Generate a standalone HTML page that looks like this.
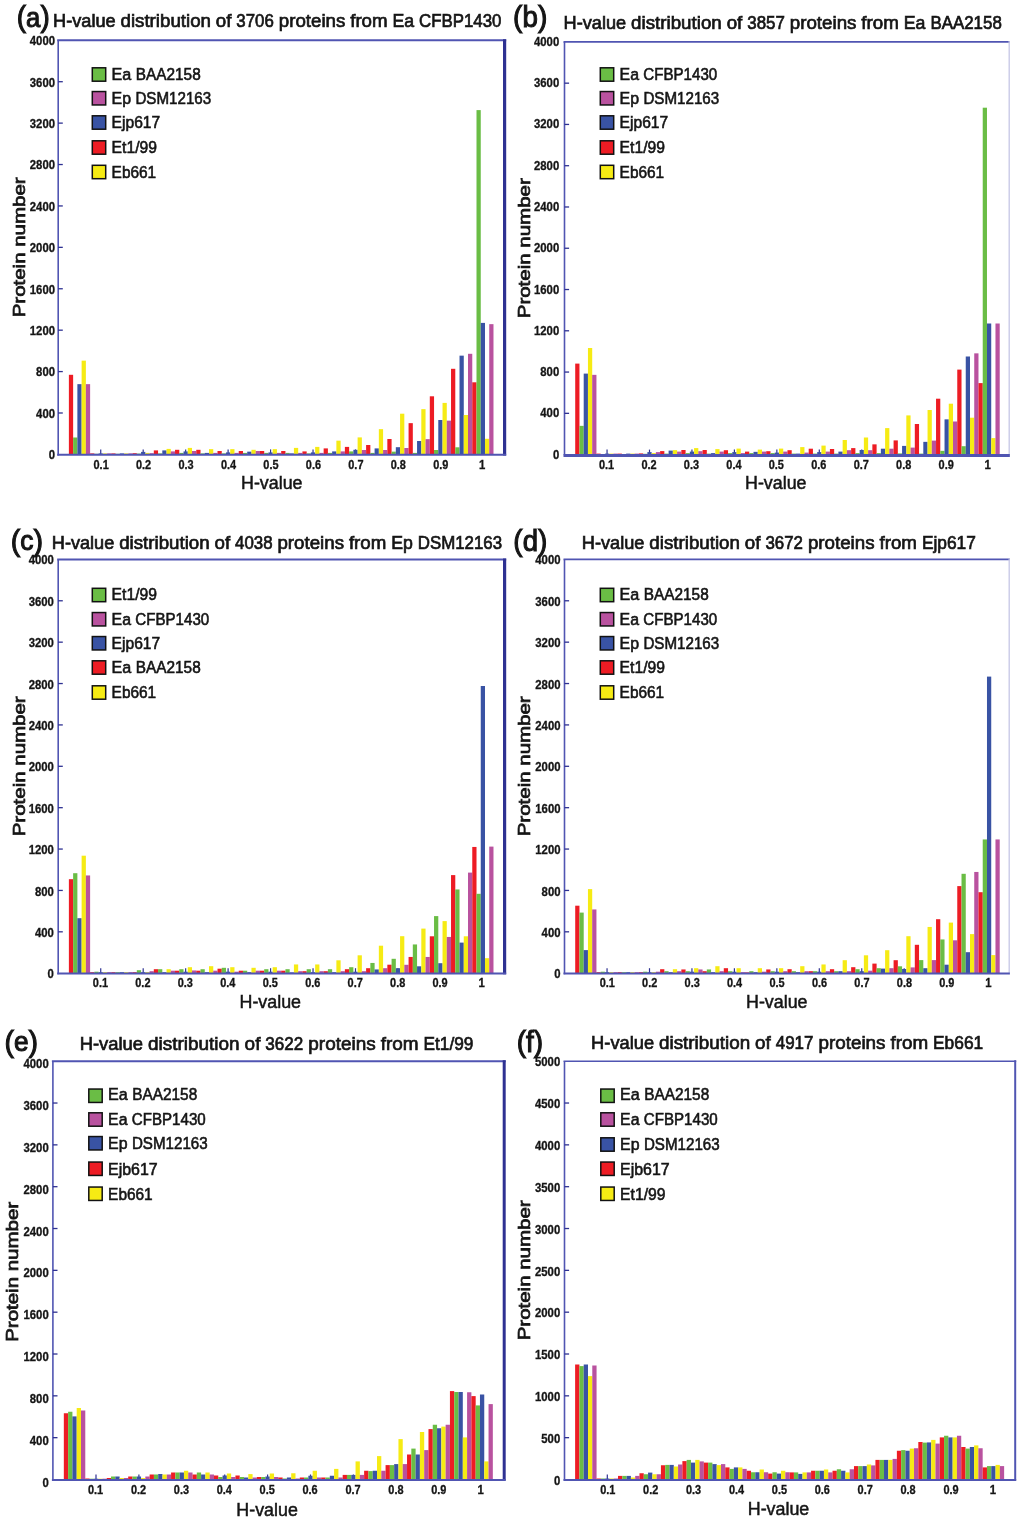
<!DOCTYPE html>
<html lang="en"><head><meta charset="utf-8"><title>H-value distributions</title>
<style>html,body{margin:0;padding:0;background:#fff}svg{display:block}text{font-family:"Liberation Sans",sans-serif;fill:#151515}.tk{font-size:12px;font-weight:bold;stroke:#151515;stroke-width:.3px}.ti{font-size:18.4px;stroke:#151515;stroke-width:.7px}.tg{font-size:30px;stroke:#151515;stroke-width:1.1px}.lg{font-size:16.6px;stroke:#151515;stroke-width:.6px}.xl{font-size:18px;stroke:#151515;stroke-width:.5px}.yl{font-size:17.4px;stroke:#151515;stroke-width:.75px}</style></head><body>
<svg width="1024" height="1521" viewBox="0 0 1024 1521">
<rect width="1024" height="1521" fill="#fff"/>
<g id="panel-a">
<line x1="100.73" y1="454.4" x2="100.73" y2="449.4" stroke="#2e3192" stroke-width="1.2"/>
<line x1="143.19" y1="454.4" x2="143.19" y2="449.4" stroke="#2e3192" stroke-width="1.2"/>
<line x1="185.65" y1="454.4" x2="185.65" y2="449.4" stroke="#2e3192" stroke-width="1.2"/>
<line x1="228.11" y1="454.4" x2="228.11" y2="449.4" stroke="#2e3192" stroke-width="1.2"/>
<line x1="270.57" y1="454.4" x2="270.57" y2="449.4" stroke="#2e3192" stroke-width="1.2"/>
<line x1="313.03" y1="454.4" x2="313.03" y2="449.4" stroke="#2e3192" stroke-width="1.2"/>
<line x1="355.49" y1="454.4" x2="355.49" y2="449.4" stroke="#2e3192" stroke-width="1.2"/>
<line x1="397.95" y1="454.4" x2="397.95" y2="449.4" stroke="#2e3192" stroke-width="1.2"/>
<line x1="440.41" y1="454.4" x2="440.41" y2="449.4" stroke="#2e3192" stroke-width="1.2"/>
<line x1="482.87" y1="454.4" x2="482.87" y2="449.4" stroke="#2e3192" stroke-width="1.2"/>
<g shape-rendering="auto">
<rect x="68.88" y="374.8" width="4.25" height="79.6" fill="#ed1c24"/>
<rect x="73.13" y="437.5" width="4.25" height="16.9" fill="#6abd45"/>
<rect x="77.38" y="384.15" width="4.25" height="70.25" fill="#3953a4"/>
<rect x="81.62" y="360.65" width="4.25" height="93.75" fill="#f6eb14"/>
<rect x="85.87" y="384.15" width="4.25" height="70.25" fill="#b9529f"/>
<rect x="90.12" y="453.4" width="4.25" height="1" fill="#ed1c24"/>
<rect x="94.36" y="453.8" width="4.25" height="0.6" fill="#6abd45"/>
<rect x="98.61" y="453.4" width="4.25" height="1" fill="#3953a4"/>
<rect x="102.85" y="453.4" width="4.25" height="1" fill="#f6eb14"/>
<rect x="107.1" y="453.4" width="4.25" height="1" fill="#b9529f"/>
<rect x="111.34" y="453.4" width="4.25" height="1" fill="#ed1c24"/>
<rect x="115.59" y="453.8" width="4.25" height="0.6" fill="#6abd45"/>
<rect x="119.84" y="453.4" width="4.25" height="1" fill="#3953a4"/>
<rect x="124.08" y="453.4" width="4.25" height="1" fill="#f6eb14"/>
<rect x="128.33" y="453.4" width="4.25" height="1" fill="#b9529f"/>
<rect x="132.58" y="453.2" width="4.25" height="1.2" fill="#ed1c24"/>
<rect x="136.82" y="453.6" width="4.25" height="0.8" fill="#6abd45"/>
<rect x="141.07" y="451.9" width="4.25" height="2.5" fill="#3953a4"/>
<rect x="145.31" y="452.9" width="4.25" height="1.5" fill="#f6eb14"/>
<rect x="149.56" y="453.2" width="4.25" height="1.2" fill="#b9529f"/>
<rect x="153.81" y="450.4" width="4.25" height="4" fill="#ed1c24"/>
<rect x="158.05" y="453.4" width="4.25" height="1" fill="#6abd45"/>
<rect x="162.3" y="450.4" width="4.25" height="4" fill="#3953a4"/>
<rect x="166.54" y="448.9" width="4.25" height="5.5" fill="#f6eb14"/>
<rect x="170.79" y="451.4" width="4.25" height="3" fill="#b9529f"/>
<rect x="175.04" y="449.8" width="4.25" height="4.6" fill="#ed1c24"/>
<rect x="179.28" y="452.9" width="4.25" height="1.5" fill="#6abd45"/>
<rect x="183.53" y="451.4" width="4.25" height="3" fill="#3953a4"/>
<rect x="187.77" y="447.9" width="4.25" height="6.5" fill="#f6eb14"/>
<rect x="192.02" y="451" width="4.25" height="3.4" fill="#b9529f"/>
<rect x="196.27" y="449.8" width="4.25" height="4.6" fill="#ed1c24"/>
<rect x="200.51" y="453.4" width="4.25" height="1" fill="#6abd45"/>
<rect x="204.76" y="452.9" width="4.25" height="1.5" fill="#3953a4"/>
<rect x="209" y="449.15" width="4.25" height="5.25" fill="#f6eb14"/>
<rect x="213.25" y="452.9" width="4.25" height="1.5" fill="#b9529f"/>
<rect x="217.5" y="451" width="4.25" height="3.4" fill="#ed1c24"/>
<rect x="221.74" y="453.4" width="4.25" height="1" fill="#6abd45"/>
<rect x="225.99" y="452.4" width="4.25" height="2" fill="#3953a4"/>
<rect x="230.23" y="449.15" width="4.25" height="5.25" fill="#f6eb14"/>
<rect x="234.48" y="452.9" width="4.25" height="1.5" fill="#b9529f"/>
<rect x="238.73" y="451" width="4.25" height="3.4" fill="#ed1c24"/>
<rect x="242.97" y="452.9" width="4.25" height="1.5" fill="#6abd45"/>
<rect x="247.22" y="451.65" width="4.25" height="2.75" fill="#3953a4"/>
<rect x="251.46" y="449.8" width="4.25" height="4.6" fill="#f6eb14"/>
<rect x="255.71" y="451" width="4.25" height="3.4" fill="#b9529f"/>
<rect x="259.96" y="451" width="4.25" height="3.4" fill="#ed1c24"/>
<rect x="264.2" y="452.9" width="4.25" height="1.5" fill="#6abd45"/>
<rect x="268.45" y="452.4" width="4.25" height="2" fill="#3953a4"/>
<rect x="272.69" y="449.15" width="4.25" height="5.25" fill="#f6eb14"/>
<rect x="276.94" y="452.9" width="4.25" height="1.5" fill="#b9529f"/>
<rect x="281.19" y="451" width="4.25" height="3.4" fill="#ed1c24"/>
<rect x="285.43" y="452.9" width="4.25" height="1.5" fill="#6abd45"/>
<rect x="289.68" y="453.4" width="4.25" height="1" fill="#3953a4"/>
<rect x="293.92" y="447.9" width="4.25" height="6.5" fill="#f6eb14"/>
<rect x="298.17" y="452.9" width="4.25" height="1.5" fill="#b9529f"/>
<rect x="302.42" y="451.4" width="4.25" height="3" fill="#ed1c24"/>
<rect x="306.66" y="453.4" width="4.25" height="1" fill="#6abd45"/>
<rect x="310.91" y="452.4" width="4.25" height="2" fill="#3953a4"/>
<rect x="315.15" y="446.9" width="4.25" height="7.5" fill="#f6eb14"/>
<rect x="319.4" y="452.9" width="4.25" height="1.5" fill="#b9529f"/>
<rect x="323.65" y="448.4" width="4.25" height="6" fill="#ed1c24"/>
<rect x="327.89" y="452.9" width="4.25" height="1.5" fill="#6abd45"/>
<rect x="332.14" y="451.4" width="4.25" height="3" fill="#3953a4"/>
<rect x="336.38" y="440.65" width="4.25" height="13.75" fill="#f6eb14"/>
<rect x="340.63" y="451.4" width="4.25" height="3" fill="#b9529f"/>
<rect x="344.88" y="446.9" width="4.25" height="7.5" fill="#ed1c24"/>
<rect x="349.12" y="451.4" width="4.25" height="3" fill="#6abd45"/>
<rect x="353.37" y="449.8" width="4.25" height="4.6" fill="#3953a4"/>
<rect x="357.61" y="437.4" width="4.25" height="17" fill="#f6eb14"/>
<rect x="361.86" y="450" width="4.25" height="4.4" fill="#b9529f"/>
<rect x="366.11" y="445" width="4.25" height="9.4" fill="#ed1c24"/>
<rect x="370.35" y="452.9" width="4.25" height="1.5" fill="#6abd45"/>
<rect x="374.6" y="448.4" width="4.25" height="6" fill="#3953a4"/>
<rect x="378.84" y="429.15" width="4.25" height="25.25" fill="#f6eb14"/>
<rect x="383.09" y="450" width="4.25" height="4.4" fill="#b9529f"/>
<rect x="387.34" y="439" width="4.25" height="15.4" fill="#ed1c24"/>
<rect x="391.58" y="451.65" width="4.25" height="2.75" fill="#6abd45"/>
<rect x="395.83" y="447.2" width="4.25" height="7.2" fill="#3953a4"/>
<rect x="400.07" y="413.7" width="4.25" height="40.7" fill="#f6eb14"/>
<rect x="404.32" y="448" width="4.25" height="6.4" fill="#b9529f"/>
<rect x="408.57" y="423.15" width="4.25" height="31.25" fill="#ed1c24"/>
<rect x="412.81" y="452.9" width="4.25" height="1.5" fill="#6abd45"/>
<rect x="417.06" y="441" width="4.25" height="13.4" fill="#3953a4"/>
<rect x="421.3" y="409.15" width="4.25" height="45.25" fill="#f6eb14"/>
<rect x="425.55" y="439.15" width="4.25" height="15.25" fill="#b9529f"/>
<rect x="429.8" y="396.3" width="4.25" height="58.1" fill="#ed1c24"/>
<rect x="434.04" y="450" width="4.25" height="4.4" fill="#6abd45"/>
<rect x="438.29" y="420" width="4.25" height="34.4" fill="#3953a4"/>
<rect x="442.53" y="402.9" width="4.25" height="51.5" fill="#f6eb14"/>
<rect x="446.78" y="420.65" width="4.25" height="33.75" fill="#b9529f"/>
<rect x="451.03" y="368.8" width="4.25" height="85.6" fill="#ed1c24"/>
<rect x="455.27" y="447.3" width="4.25" height="7.1" fill="#6abd45"/>
<rect x="459.52" y="355.65" width="4.25" height="98.75" fill="#3953a4"/>
<rect x="463.76" y="415" width="4.25" height="39.4" fill="#f6eb14"/>
<rect x="468.01" y="353.8" width="4.25" height="100.6" fill="#b9529f"/>
<rect x="472.26" y="382.3" width="4.25" height="72.1" fill="#ed1c24"/>
<rect x="476.5" y="110.1" width="4.25" height="344.3" fill="#6abd45"/>
<rect x="480.75" y="322.9" width="4.25" height="131.5" fill="#3953a4"/>
<rect x="484.99" y="438.8" width="4.25" height="15.6" fill="#f6eb14"/>
<rect x="489.24" y="324.15" width="4.25" height="130.25" fill="#b9529f"/>
</g>
<line x1="58.2" y1="40.3" x2="58.2" y2="455.4" stroke="#5055b2" stroke-width="1.6"/>
<line x1="57.2" y1="40.3" x2="506.2" y2="40.3" stroke="#5055b2" stroke-width="2.0"/>
<line x1="504.6" y1="39.3" x2="504.6" y2="455.4" stroke="#2e3192" stroke-width="3.2"/>
<line x1="57.2" y1="454.8" x2="506.2" y2="454.8" stroke="#5055b2" stroke-width="2.0"/>
<text class="tk" x="55" y="459.3" text-anchor="end" textLength="6.3" lengthAdjust="spacingAndGlyphs">0</text>
<line x1="58.2" y1="412.99" x2="62.8" y2="412.99" stroke="#2e3192" stroke-width="1.3"/>
<text class="tk" x="55" y="417.89" text-anchor="end" textLength="18.9" lengthAdjust="spacingAndGlyphs">400</text>
<line x1="58.2" y1="371.58" x2="62.8" y2="371.58" stroke="#2e3192" stroke-width="1.3"/>
<text class="tk" x="55" y="376.48" text-anchor="end" textLength="18.9" lengthAdjust="spacingAndGlyphs">800</text>
<line x1="58.2" y1="330.17" x2="62.8" y2="330.17" stroke="#2e3192" stroke-width="1.3"/>
<text class="tk" x="55" y="335.07" text-anchor="end" textLength="25.2" lengthAdjust="spacingAndGlyphs">1200</text>
<line x1="58.2" y1="288.76" x2="62.8" y2="288.76" stroke="#2e3192" stroke-width="1.3"/>
<text class="tk" x="55" y="293.66" text-anchor="end" textLength="25.2" lengthAdjust="spacingAndGlyphs">1600</text>
<line x1="58.2" y1="247.35" x2="62.8" y2="247.35" stroke="#2e3192" stroke-width="1.3"/>
<text class="tk" x="55" y="252.25" text-anchor="end" textLength="25.2" lengthAdjust="spacingAndGlyphs">2000</text>
<line x1="58.2" y1="205.94" x2="62.8" y2="205.94" stroke="#2e3192" stroke-width="1.3"/>
<text class="tk" x="55" y="210.84" text-anchor="end" textLength="25.2" lengthAdjust="spacingAndGlyphs">2400</text>
<line x1="58.2" y1="164.53" x2="62.8" y2="164.53" stroke="#2e3192" stroke-width="1.3"/>
<text class="tk" x="55" y="169.43" text-anchor="end" textLength="25.2" lengthAdjust="spacingAndGlyphs">2800</text>
<line x1="58.2" y1="123.12" x2="62.8" y2="123.12" stroke="#2e3192" stroke-width="1.3"/>
<text class="tk" x="55" y="128.02" text-anchor="end" textLength="25.2" lengthAdjust="spacingAndGlyphs">3200</text>
<line x1="58.2" y1="81.71" x2="62.8" y2="81.71" stroke="#2e3192" stroke-width="1.3"/>
<text class="tk" x="55" y="86.61" text-anchor="end" textLength="25.2" lengthAdjust="spacingAndGlyphs">3600</text>
<text class="tk" x="55" y="44.7" text-anchor="end" textLength="25.2" lengthAdjust="spacingAndGlyphs">4000</text>
<text class="tk" x="101.13" y="468.6" text-anchor="middle" textLength="15.2" lengthAdjust="spacingAndGlyphs">0.1</text>
<text class="tk" x="143.59" y="468.6" text-anchor="middle" textLength="15.2" lengthAdjust="spacingAndGlyphs">0.2</text>
<text class="tk" x="186.05" y="468.6" text-anchor="middle" textLength="15.2" lengthAdjust="spacingAndGlyphs">0.3</text>
<text class="tk" x="228.51" y="468.6" text-anchor="middle" textLength="15.2" lengthAdjust="spacingAndGlyphs">0.4</text>
<text class="tk" x="270.97" y="468.6" text-anchor="middle" textLength="15.2" lengthAdjust="spacingAndGlyphs">0.5</text>
<text class="tk" x="313.43" y="468.6" text-anchor="middle" textLength="15.2" lengthAdjust="spacingAndGlyphs">0.6</text>
<text class="tk" x="355.89" y="468.6" text-anchor="middle" textLength="15.2" lengthAdjust="spacingAndGlyphs">0.7</text>
<text class="tk" x="398.35" y="468.6" text-anchor="middle" textLength="15.2" lengthAdjust="spacingAndGlyphs">0.8</text>
<text class="tk" x="440.81" y="468.6" text-anchor="middle" textLength="15.2" lengthAdjust="spacingAndGlyphs">0.9</text>
<text class="tk" x="482.27" y="468.6" text-anchor="middle" textLength="6.3" lengthAdjust="spacingAndGlyphs">1</text>
<text class="xl" x="271.77" y="488.8" text-anchor="middle" textLength="61.5" lengthAdjust="spacingAndGlyphs">H-value</text>
<text class="yl" transform="translate(25.3 247.35) rotate(-90)" text-anchor="middle" textLength="140" lengthAdjust="spacingAndGlyphs">Protein number</text>
<text class="ti" y="27.1"><tspan x="53.1" textLength="62.5" lengthAdjust="spacingAndGlyphs">H-value</tspan> <tspan x="120.5" textLength="90.46" lengthAdjust="spacingAndGlyphs">distribution</tspan> <tspan x="215.86" textLength="15.6" lengthAdjust="spacingAndGlyphs">of</tspan> <tspan x="236.36" textLength="37.49" lengthAdjust="spacingAndGlyphs">3706</tspan> <tspan x="278.76" textLength="66.55" lengthAdjust="spacingAndGlyphs">proteins</tspan> <tspan x="350.21" textLength="37.41" lengthAdjust="spacingAndGlyphs">from</tspan> <tspan x="392.52" textLength="21.64" lengthAdjust="spacingAndGlyphs">Ea</tspan> <tspan x="419.06" textLength="82.44" lengthAdjust="spacingAndGlyphs">CFBP1430</tspan></text>
<text class="tg" x="16.8" y="26.5" textLength="32.9" lengthAdjust="spacingAndGlyphs">(<tspan font-size="27.5" dy="0">a</tspan><tspan dy="0">)</tspan></text>
<rect x="92.3" y="67.8" width="13.4" height="13.4" fill="#6abd45" stroke="#111" stroke-width="1.5"/>
<text class="lg" y="79.5"><tspan x="111.6" textLength="19.73" lengthAdjust="spacingAndGlyphs">Ea</tspan> <tspan x="135.8" textLength="64.9" lengthAdjust="spacingAndGlyphs">BAA2158</tspan></text>
<rect x="92.3" y="91.55" width="13.4" height="13.4" fill="#b9529f" stroke="#111" stroke-width="1.5"/>
<text class="lg" y="104.15"><tspan x="111.6" textLength="19.45" lengthAdjust="spacingAndGlyphs">Ep</tspan> <tspan x="135.45" textLength="75.75" lengthAdjust="spacingAndGlyphs">DSM12163</tspan></text>
<rect x="92.3" y="115.8" width="13.4" height="13.4" fill="#3953a4" stroke="#111" stroke-width="1.5"/>
<text class="lg" y="128.4"><tspan x="111.6" textLength="48.6" lengthAdjust="spacingAndGlyphs">Ejp617</tspan></text>
<rect x="92.3" y="140.8" width="13.4" height="13.4" fill="#ed1c24" stroke="#111" stroke-width="1.5"/>
<text class="lg" y="153.4"><tspan x="111.6" textLength="45.4" lengthAdjust="spacingAndGlyphs">Et1/99</tspan></text>
<rect x="92.3" y="165.3" width="13.4" height="13.4" fill="#f6eb14" stroke="#111" stroke-width="1.5"/>
<text class="lg" y="177.9"><tspan x="111.6" textLength="44.6" lengthAdjust="spacingAndGlyphs">Eb661</tspan></text>
</g>
<g id="panel-b">
<line x1="607.05" y1="454.6" x2="607.05" y2="449.6" stroke="#2e3192" stroke-width="1.2"/>
<line x1="649.5" y1="454.6" x2="649.5" y2="449.6" stroke="#2e3192" stroke-width="1.2"/>
<line x1="691.95" y1="454.6" x2="691.95" y2="449.6" stroke="#2e3192" stroke-width="1.2"/>
<line x1="734.4" y1="454.6" x2="734.4" y2="449.6" stroke="#2e3192" stroke-width="1.2"/>
<line x1="776.85" y1="454.6" x2="776.85" y2="449.6" stroke="#2e3192" stroke-width="1.2"/>
<line x1="819.3" y1="454.6" x2="819.3" y2="449.6" stroke="#2e3192" stroke-width="1.2"/>
<line x1="861.75" y1="454.6" x2="861.75" y2="449.6" stroke="#2e3192" stroke-width="1.2"/>
<line x1="904.2" y1="454.6" x2="904.2" y2="449.6" stroke="#2e3192" stroke-width="1.2"/>
<line x1="946.65" y1="454.6" x2="946.65" y2="449.6" stroke="#2e3192" stroke-width="1.2"/>
<line x1="989.1" y1="454.6" x2="989.1" y2="449.6" stroke="#2e3192" stroke-width="1.2"/>
<g shape-rendering="auto">
<rect x="575.21" y="363.6" width="4.25" height="91" fill="#ed1c24"/>
<rect x="579.46" y="425.85" width="4.25" height="28.75" fill="#6abd45"/>
<rect x="583.7" y="373.6" width="4.25" height="81" fill="#3953a4"/>
<rect x="587.95" y="348" width="4.25" height="106.6" fill="#f6eb14"/>
<rect x="592.19" y="374.85" width="4.25" height="79.75" fill="#b9529f"/>
<rect x="596.44" y="453.6" width="4.25" height="1" fill="#ed1c24"/>
<rect x="600.68" y="454" width="4.25" height="0.6" fill="#6abd45"/>
<rect x="604.93" y="453.6" width="4.25" height="1" fill="#3953a4"/>
<rect x="609.17" y="453.6" width="4.25" height="1" fill="#f6eb14"/>
<rect x="613.42" y="453.6" width="4.25" height="1" fill="#b9529f"/>
<rect x="617.66" y="453.6" width="4.25" height="1" fill="#ed1c24"/>
<rect x="621.91" y="454" width="4.25" height="0.6" fill="#6abd45"/>
<rect x="626.15" y="453.6" width="4.25" height="1" fill="#3953a4"/>
<rect x="630.4" y="453.6" width="4.25" height="1" fill="#f6eb14"/>
<rect x="634.64" y="453.6" width="4.25" height="1" fill="#b9529f"/>
<rect x="638.89" y="453.4" width="4.25" height="1.2" fill="#ed1c24"/>
<rect x="643.13" y="453.8" width="4.25" height="0.8" fill="#6abd45"/>
<rect x="647.38" y="452.1" width="4.25" height="2.5" fill="#3953a4"/>
<rect x="651.62" y="453.1" width="4.25" height="1.5" fill="#f6eb14"/>
<rect x="655.87" y="452.1" width="4.25" height="2.5" fill="#b9529f"/>
<rect x="660.11" y="451.1" width="4.25" height="3.5" fill="#ed1c24"/>
<rect x="664.36" y="453.6" width="4.25" height="1" fill="#6abd45"/>
<rect x="668.6" y="450.6" width="4.25" height="4" fill="#3953a4"/>
<rect x="672.85" y="450.1" width="4.25" height="4.5" fill="#f6eb14"/>
<rect x="677.09" y="451.6" width="4.25" height="3" fill="#b9529f"/>
<rect x="681.34" y="450" width="4.25" height="4.6" fill="#ed1c24"/>
<rect x="685.58" y="453.1" width="4.25" height="1.5" fill="#6abd45"/>
<rect x="689.83" y="451.6" width="4.25" height="3" fill="#3953a4"/>
<rect x="694.07" y="448.1" width="4.25" height="6.5" fill="#f6eb14"/>
<rect x="698.32" y="451.2" width="4.25" height="3.4" fill="#b9529f"/>
<rect x="702.56" y="450" width="4.25" height="4.6" fill="#ed1c24"/>
<rect x="706.81" y="453.6" width="4.25" height="1" fill="#6abd45"/>
<rect x="711.05" y="453.1" width="4.25" height="1.5" fill="#3953a4"/>
<rect x="715.3" y="449.1" width="4.25" height="5.5" fill="#f6eb14"/>
<rect x="719.54" y="451.6" width="4.25" height="3" fill="#b9529f"/>
<rect x="723.79" y="450.2" width="4.25" height="4.4" fill="#ed1c24"/>
<rect x="728.03" y="453.1" width="4.25" height="1.5" fill="#6abd45"/>
<rect x="732.28" y="452.1" width="4.25" height="2.5" fill="#3953a4"/>
<rect x="736.52" y="448.6" width="4.25" height="6" fill="#f6eb14"/>
<rect x="740.77" y="453.1" width="4.25" height="1.5" fill="#b9529f"/>
<rect x="745.01" y="451.6" width="4.25" height="3" fill="#ed1c24"/>
<rect x="749.26" y="453.1" width="4.25" height="1.5" fill="#6abd45"/>
<rect x="753.5" y="451.85" width="4.25" height="2.75" fill="#3953a4"/>
<rect x="757.75" y="449.6" width="4.25" height="5" fill="#f6eb14"/>
<rect x="761.99" y="451.6" width="4.25" height="3" fill="#b9529f"/>
<rect x="766.24" y="451.2" width="4.25" height="3.4" fill="#ed1c24"/>
<rect x="770.48" y="453.1" width="4.25" height="1.5" fill="#6abd45"/>
<rect x="774.73" y="452.6" width="4.25" height="2" fill="#3953a4"/>
<rect x="778.97" y="448.6" width="4.25" height="6" fill="#f6eb14"/>
<rect x="783.22" y="451.6" width="4.25" height="3" fill="#b9529f"/>
<rect x="787.46" y="450.2" width="4.25" height="4.4" fill="#ed1c24"/>
<rect x="791.71" y="453.6" width="4.25" height="1" fill="#6abd45"/>
<rect x="795.95" y="453.6" width="4.25" height="1" fill="#3953a4"/>
<rect x="800.2" y="447.1" width="4.25" height="7.5" fill="#f6eb14"/>
<rect x="804.44" y="452.6" width="4.25" height="2" fill="#b9529f"/>
<rect x="808.69" y="448.7" width="4.25" height="5.9" fill="#ed1c24"/>
<rect x="812.93" y="453.6" width="4.25" height="1" fill="#6abd45"/>
<rect x="817.18" y="452.1" width="4.25" height="2.5" fill="#3953a4"/>
<rect x="821.42" y="445.6" width="4.25" height="9" fill="#f6eb14"/>
<rect x="825.67" y="451.6" width="4.25" height="3" fill="#b9529f"/>
<rect x="829.91" y="449" width="4.25" height="5.6" fill="#ed1c24"/>
<rect x="834.16" y="453.6" width="4.25" height="1" fill="#6abd45"/>
<rect x="838.4" y="451.6" width="4.25" height="3" fill="#3953a4"/>
<rect x="842.65" y="440" width="4.25" height="14.6" fill="#f6eb14"/>
<rect x="846.89" y="450.2" width="4.25" height="4.4" fill="#b9529f"/>
<rect x="851.14" y="448.1" width="4.25" height="6.5" fill="#ed1c24"/>
<rect x="855.38" y="453.1" width="4.25" height="1.5" fill="#6abd45"/>
<rect x="859.63" y="450" width="4.25" height="4.6" fill="#3953a4"/>
<rect x="863.87" y="437.5" width="4.25" height="17.1" fill="#f6eb14"/>
<rect x="868.12" y="450.2" width="4.25" height="4.4" fill="#b9529f"/>
<rect x="872.36" y="444.35" width="4.25" height="10.25" fill="#ed1c24"/>
<rect x="876.61" y="453.1" width="4.25" height="1.5" fill="#6abd45"/>
<rect x="880.85" y="448.7" width="4.25" height="5.9" fill="#3953a4"/>
<rect x="885.1" y="428.1" width="4.25" height="26.5" fill="#f6eb14"/>
<rect x="889.34" y="448.7" width="4.25" height="5.9" fill="#b9529f"/>
<rect x="893.59" y="440.4" width="4.25" height="14.2" fill="#ed1c24"/>
<rect x="897.83" y="453.4" width="4.25" height="1.2" fill="#6abd45"/>
<rect x="902.08" y="445.9" width="4.25" height="8.7" fill="#3953a4"/>
<rect x="906.32" y="415.4" width="4.25" height="39.2" fill="#f6eb14"/>
<rect x="910.57" y="447.6" width="4.25" height="7" fill="#b9529f"/>
<rect x="914.81" y="424" width="4.25" height="30.6" fill="#ed1c24"/>
<rect x="919.06" y="453.6" width="4.25" height="1" fill="#6abd45"/>
<rect x="923.3" y="441.85" width="4.25" height="12.75" fill="#3953a4"/>
<rect x="927.55" y="410" width="4.25" height="44.6" fill="#f6eb14"/>
<rect x="931.79" y="440.6" width="4.25" height="14" fill="#b9529f"/>
<rect x="936.04" y="398.7" width="4.25" height="55.9" fill="#ed1c24"/>
<rect x="940.28" y="450.85" width="4.25" height="3.75" fill="#6abd45"/>
<rect x="944.53" y="419.35" width="4.25" height="35.25" fill="#3953a4"/>
<rect x="948.77" y="403.7" width="4.25" height="50.9" fill="#f6eb14"/>
<rect x="953.02" y="421.5" width="4.25" height="33.1" fill="#b9529f"/>
<rect x="957.26" y="369.6" width="4.25" height="85" fill="#ed1c24"/>
<rect x="961.51" y="446.2" width="4.25" height="8.4" fill="#6abd45"/>
<rect x="965.75" y="356.5" width="4.25" height="98.1" fill="#3953a4"/>
<rect x="970" y="417.7" width="4.25" height="36.9" fill="#f6eb14"/>
<rect x="974.24" y="353.35" width="4.25" height="101.25" fill="#b9529f"/>
<rect x="978.49" y="383.1" width="4.25" height="71.5" fill="#ed1c24"/>
<rect x="982.73" y="107.7" width="4.25" height="346.9" fill="#6abd45"/>
<rect x="986.98" y="323.5" width="4.25" height="131.1" fill="#3953a4"/>
<rect x="991.22" y="438.1" width="4.25" height="16.5" fill="#f6eb14"/>
<rect x="995.47" y="323.5" width="4.25" height="131.1" fill="#b9529f"/>
</g>
<line x1="564.5" y1="42.1" x2="564.5" y2="455.6" stroke="#5055b2" stroke-width="1.6"/>
<line x1="563.5" y1="41.9" x2="1009.85" y2="41.9" stroke="#5055b2" stroke-width="1.6"/>
<line x1="1009.2" y1="40.9" x2="1009.2" y2="455.6" stroke="#c6c7e6" stroke-width="1.3"/>
<line x1="563.5" y1="455.5" x2="1009.85" y2="455.5" stroke="#5055b2" stroke-width="3.0"/>
<text class="tk" x="559.2" y="458.6" text-anchor="end" textLength="6.3" lengthAdjust="spacingAndGlyphs">0</text>
<line x1="564.5" y1="413.33" x2="569.1" y2="413.33" stroke="#2e3192" stroke-width="1.3"/>
<text class="tk" x="559.2" y="417.33" text-anchor="end" textLength="18.9" lengthAdjust="spacingAndGlyphs">400</text>
<line x1="564.5" y1="372.06" x2="569.1" y2="372.06" stroke="#2e3192" stroke-width="1.3"/>
<text class="tk" x="559.2" y="376.06" text-anchor="end" textLength="18.9" lengthAdjust="spacingAndGlyphs">800</text>
<line x1="564.5" y1="330.79" x2="569.1" y2="330.79" stroke="#2e3192" stroke-width="1.3"/>
<text class="tk" x="559.2" y="334.79" text-anchor="end" textLength="25.2" lengthAdjust="spacingAndGlyphs">1200</text>
<line x1="564.5" y1="289.52" x2="569.1" y2="289.52" stroke="#2e3192" stroke-width="1.3"/>
<text class="tk" x="559.2" y="293.52" text-anchor="end" textLength="25.2" lengthAdjust="spacingAndGlyphs">1600</text>
<line x1="564.5" y1="248.25" x2="569.1" y2="248.25" stroke="#2e3192" stroke-width="1.3"/>
<text class="tk" x="559.2" y="252.25" text-anchor="end" textLength="25.2" lengthAdjust="spacingAndGlyphs">2000</text>
<line x1="564.5" y1="206.98" x2="569.1" y2="206.98" stroke="#2e3192" stroke-width="1.3"/>
<text class="tk" x="559.2" y="210.98" text-anchor="end" textLength="25.2" lengthAdjust="spacingAndGlyphs">2400</text>
<line x1="564.5" y1="165.71" x2="569.1" y2="165.71" stroke="#2e3192" stroke-width="1.3"/>
<text class="tk" x="559.2" y="169.71" text-anchor="end" textLength="25.2" lengthAdjust="spacingAndGlyphs">2800</text>
<line x1="564.5" y1="124.44" x2="569.1" y2="124.44" stroke="#2e3192" stroke-width="1.3"/>
<text class="tk" x="559.2" y="128.44" text-anchor="end" textLength="25.2" lengthAdjust="spacingAndGlyphs">3200</text>
<line x1="564.5" y1="83.17" x2="569.1" y2="83.17" stroke="#2e3192" stroke-width="1.3"/>
<text class="tk" x="559.2" y="87.17" text-anchor="end" textLength="25.2" lengthAdjust="spacingAndGlyphs">3600</text>
<text class="tk" x="559.2" y="45.9" text-anchor="end" textLength="25.2" lengthAdjust="spacingAndGlyphs">4000</text>
<text class="tk" x="606.55" y="468.8" text-anchor="middle" textLength="15.2" lengthAdjust="spacingAndGlyphs">0.1</text>
<text class="tk" x="649" y="468.8" text-anchor="middle" textLength="15.2" lengthAdjust="spacingAndGlyphs">0.2</text>
<text class="tk" x="691.45" y="468.8" text-anchor="middle" textLength="15.2" lengthAdjust="spacingAndGlyphs">0.3</text>
<text class="tk" x="733.9" y="468.8" text-anchor="middle" textLength="15.2" lengthAdjust="spacingAndGlyphs">0.4</text>
<text class="tk" x="776.35" y="468.8" text-anchor="middle" textLength="15.2" lengthAdjust="spacingAndGlyphs">0.5</text>
<text class="tk" x="818.8" y="468.8" text-anchor="middle" textLength="15.2" lengthAdjust="spacingAndGlyphs">0.6</text>
<text class="tk" x="861.25" y="468.8" text-anchor="middle" textLength="15.2" lengthAdjust="spacingAndGlyphs">0.7</text>
<text class="tk" x="903.7" y="468.8" text-anchor="middle" textLength="15.2" lengthAdjust="spacingAndGlyphs">0.8</text>
<text class="tk" x="946.15" y="468.8" text-anchor="middle" textLength="15.2" lengthAdjust="spacingAndGlyphs">0.9</text>
<text class="tk" x="987.6" y="468.8" text-anchor="middle" textLength="6.3" lengthAdjust="spacingAndGlyphs">1</text>
<text class="xl" x="775.75" y="488.8" text-anchor="middle" textLength="61.5" lengthAdjust="spacingAndGlyphs">H-value</text>
<text class="yl" transform="translate(530 248.25) rotate(-90)" text-anchor="middle" textLength="140" lengthAdjust="spacingAndGlyphs">Protein number</text>
<text class="ti" y="29"><tspan x="563.5" textLength="62.66" lengthAdjust="spacingAndGlyphs">H-value</tspan> <tspan x="631.08" textLength="90.69" lengthAdjust="spacingAndGlyphs">distribution</tspan> <tspan x="726.68" textLength="15.64" lengthAdjust="spacingAndGlyphs">of</tspan> <tspan x="747.24" textLength="37.59" lengthAdjust="spacingAndGlyphs">3857</tspan> <tspan x="789.74" textLength="66.72" lengthAdjust="spacingAndGlyphs">proteins</tspan> <tspan x="861.37" textLength="37.51" lengthAdjust="spacingAndGlyphs">from</tspan> <tspan x="903.79" textLength="21.7" lengthAdjust="spacingAndGlyphs">Ea</tspan> <tspan x="930.41" textLength="71.39" lengthAdjust="spacingAndGlyphs">BAA2158</tspan></text>
<text class="tg" x="513.1" y="26.9" textLength="34.2" lengthAdjust="spacingAndGlyphs">(<tspan font-size="29.5" dy="0">b</tspan><tspan dy="0">)</tspan></text>
<rect x="600.3" y="67.8" width="13.4" height="13.4" fill="#6abd45" stroke="#111" stroke-width="1.5"/>
<text class="lg" y="79.5"><tspan x="619.6" textLength="19.38" lengthAdjust="spacingAndGlyphs">Ea</tspan> <tspan x="643.37" textLength="73.83" lengthAdjust="spacingAndGlyphs">CFBP1430</tspan></text>
<rect x="600.3" y="91.55" width="13.4" height="13.4" fill="#b9529f" stroke="#111" stroke-width="1.5"/>
<text class="lg" y="104.15"><tspan x="619.6" textLength="19.45" lengthAdjust="spacingAndGlyphs">Ep</tspan> <tspan x="643.45" textLength="75.75" lengthAdjust="spacingAndGlyphs">DSM12163</tspan></text>
<rect x="600.3" y="115.8" width="13.4" height="13.4" fill="#3953a4" stroke="#111" stroke-width="1.5"/>
<text class="lg" y="128.4"><tspan x="619.6" textLength="48.6" lengthAdjust="spacingAndGlyphs">Ejp617</tspan></text>
<rect x="600.3" y="140.8" width="13.4" height="13.4" fill="#ed1c24" stroke="#111" stroke-width="1.5"/>
<text class="lg" y="153.4"><tspan x="619.6" textLength="45.4" lengthAdjust="spacingAndGlyphs">Et1/99</tspan></text>
<rect x="600.3" y="165.3" width="13.4" height="13.4" fill="#f6eb14" stroke="#111" stroke-width="1.5"/>
<text class="lg" y="177.9"><tspan x="619.6" textLength="44.6" lengthAdjust="spacingAndGlyphs">Eb661</tspan></text>
</g>
<g id="panel-c">
<line x1="100.73" y1="973.2" x2="100.73" y2="968.2" stroke="#2e3192" stroke-width="1.2"/>
<line x1="143.19" y1="973.2" x2="143.19" y2="968.2" stroke="#2e3192" stroke-width="1.2"/>
<line x1="185.65" y1="973.2" x2="185.65" y2="968.2" stroke="#2e3192" stroke-width="1.2"/>
<line x1="228.11" y1="973.2" x2="228.11" y2="968.2" stroke="#2e3192" stroke-width="1.2"/>
<line x1="270.57" y1="973.2" x2="270.57" y2="968.2" stroke="#2e3192" stroke-width="1.2"/>
<line x1="313.03" y1="973.2" x2="313.03" y2="968.2" stroke="#2e3192" stroke-width="1.2"/>
<line x1="355.49" y1="973.2" x2="355.49" y2="968.2" stroke="#2e3192" stroke-width="1.2"/>
<line x1="397.95" y1="973.2" x2="397.95" y2="968.2" stroke="#2e3192" stroke-width="1.2"/>
<line x1="440.41" y1="973.2" x2="440.41" y2="968.2" stroke="#2e3192" stroke-width="1.2"/>
<line x1="482.87" y1="973.2" x2="482.87" y2="968.2" stroke="#2e3192" stroke-width="1.2"/>
<g shape-rendering="auto">
<rect x="68.88" y="879.2" width="4.25" height="94" fill="#ed1c24"/>
<rect x="73.13" y="873.2" width="4.25" height="100" fill="#6abd45"/>
<rect x="77.38" y="918.2" width="4.25" height="55" fill="#3953a4"/>
<rect x="81.62" y="855.7" width="4.25" height="117.5" fill="#f6eb14"/>
<rect x="85.87" y="875.45" width="4.25" height="97.75" fill="#b9529f"/>
<rect x="90.12" y="972.2" width="4.25" height="1" fill="#ed1c24"/>
<rect x="94.36" y="971.7" width="4.25" height="1.5" fill="#6abd45"/>
<rect x="98.61" y="972.2" width="4.25" height="1" fill="#3953a4"/>
<rect x="102.85" y="972.2" width="4.25" height="1" fill="#f6eb14"/>
<rect x="107.1" y="972.2" width="4.25" height="1" fill="#b9529f"/>
<rect x="111.34" y="972.2" width="4.25" height="1" fill="#ed1c24"/>
<rect x="115.59" y="972.2" width="4.25" height="1" fill="#6abd45"/>
<rect x="119.84" y="972.2" width="4.25" height="1" fill="#3953a4"/>
<rect x="124.08" y="972.2" width="4.25" height="1" fill="#f6eb14"/>
<rect x="128.33" y="972.2" width="4.25" height="1" fill="#b9529f"/>
<rect x="132.58" y="972.2" width="4.25" height="1" fill="#ed1c24"/>
<rect x="136.82" y="970.2" width="4.25" height="3" fill="#6abd45"/>
<rect x="141.07" y="972.2" width="4.25" height="1" fill="#3953a4"/>
<rect x="145.31" y="972.2" width="4.25" height="1" fill="#f6eb14"/>
<rect x="149.56" y="971.2" width="4.25" height="2" fill="#b9529f"/>
<rect x="153.81" y="969.2" width="4.25" height="4" fill="#ed1c24"/>
<rect x="158.05" y="969.2" width="4.25" height="4" fill="#6abd45"/>
<rect x="162.3" y="972.2" width="4.25" height="1" fill="#3953a4"/>
<rect x="166.54" y="969.2" width="4.25" height="4" fill="#f6eb14"/>
<rect x="170.79" y="970.7" width="4.25" height="2.5" fill="#b9529f"/>
<rect x="175.04" y="970.7" width="4.25" height="2.5" fill="#ed1c24"/>
<rect x="179.28" y="969.2" width="4.25" height="4" fill="#6abd45"/>
<rect x="183.53" y="971.7" width="4.25" height="1.5" fill="#3953a4"/>
<rect x="187.77" y="967.2" width="4.25" height="6" fill="#f6eb14"/>
<rect x="192.02" y="970.45" width="4.25" height="2.75" fill="#b9529f"/>
<rect x="196.27" y="970.7" width="4.25" height="2.5" fill="#ed1c24"/>
<rect x="200.51" y="969.2" width="4.25" height="4" fill="#6abd45"/>
<rect x="204.76" y="972.2" width="4.25" height="1" fill="#3953a4"/>
<rect x="209" y="966.2" width="4.25" height="7" fill="#f6eb14"/>
<rect x="213.25" y="970.7" width="4.25" height="2.5" fill="#b9529f"/>
<rect x="217.5" y="968.7" width="4.25" height="4.5" fill="#ed1c24"/>
<rect x="221.74" y="967.8" width="4.25" height="5.4" fill="#6abd45"/>
<rect x="225.99" y="971.7" width="4.25" height="1.5" fill="#3953a4"/>
<rect x="230.23" y="967.2" width="4.25" height="6" fill="#f6eb14"/>
<rect x="234.48" y="971.7" width="4.25" height="1.5" fill="#b9529f"/>
<rect x="238.73" y="970.7" width="4.25" height="2.5" fill="#ed1c24"/>
<rect x="242.97" y="970.7" width="4.25" height="2.5" fill="#6abd45"/>
<rect x="247.22" y="972.2" width="4.25" height="1" fill="#3953a4"/>
<rect x="251.46" y="967.8" width="4.25" height="5.4" fill="#f6eb14"/>
<rect x="255.71" y="970.7" width="4.25" height="2.5" fill="#b9529f"/>
<rect x="259.96" y="970.7" width="4.25" height="2.5" fill="#ed1c24"/>
<rect x="264.2" y="969.2" width="4.25" height="4" fill="#6abd45"/>
<rect x="268.45" y="971.7" width="4.25" height="1.5" fill="#3953a4"/>
<rect x="272.69" y="967.2" width="4.25" height="6" fill="#f6eb14"/>
<rect x="276.94" y="970.7" width="4.25" height="2.5" fill="#b9529f"/>
<rect x="281.19" y="970.7" width="4.25" height="2.5" fill="#ed1c24"/>
<rect x="285.43" y="969.2" width="4.25" height="4" fill="#6abd45"/>
<rect x="289.68" y="972.4" width="4.25" height="0.8" fill="#3953a4"/>
<rect x="293.92" y="964.45" width="4.25" height="8.75" fill="#f6eb14"/>
<rect x="298.17" y="971.2" width="4.25" height="2" fill="#b9529f"/>
<rect x="302.42" y="971.2" width="4.25" height="2" fill="#ed1c24"/>
<rect x="306.66" y="969.2" width="4.25" height="4" fill="#6abd45"/>
<rect x="310.91" y="972.2" width="4.25" height="1" fill="#3953a4"/>
<rect x="315.15" y="964.45" width="4.25" height="8.75" fill="#f6eb14"/>
<rect x="319.4" y="971.2" width="4.25" height="2" fill="#b9529f"/>
<rect x="323.65" y="971.2" width="4.25" height="2" fill="#ed1c24"/>
<rect x="327.89" y="969.2" width="4.25" height="4" fill="#6abd45"/>
<rect x="332.14" y="972.2" width="4.25" height="1" fill="#3953a4"/>
<rect x="336.38" y="960.3" width="4.25" height="12.9" fill="#f6eb14"/>
<rect x="340.63" y="971.2" width="4.25" height="2" fill="#b9529f"/>
<rect x="344.88" y="969.2" width="4.25" height="4" fill="#ed1c24"/>
<rect x="349.12" y="967.2" width="4.25" height="6" fill="#6abd45"/>
<rect x="353.37" y="971.7" width="4.25" height="1.5" fill="#3953a4"/>
<rect x="357.61" y="955.3" width="4.25" height="17.9" fill="#f6eb14"/>
<rect x="361.86" y="971.2" width="4.25" height="2" fill="#b9529f"/>
<rect x="366.11" y="968.2" width="4.25" height="5" fill="#ed1c24"/>
<rect x="370.35" y="962.95" width="4.25" height="10.25" fill="#6abd45"/>
<rect x="374.6" y="969.45" width="4.25" height="3.75" fill="#3953a4"/>
<rect x="378.84" y="945.7" width="4.25" height="27.5" fill="#f6eb14"/>
<rect x="383.09" y="968.2" width="4.25" height="5" fill="#b9529f"/>
<rect x="387.34" y="964.7" width="4.25" height="8.5" fill="#ed1c24"/>
<rect x="391.58" y="958.8" width="4.25" height="14.4" fill="#6abd45"/>
<rect x="395.83" y="968.2" width="4.25" height="5" fill="#3953a4"/>
<rect x="400.07" y="936.2" width="4.25" height="37" fill="#f6eb14"/>
<rect x="404.32" y="964.8" width="4.25" height="8.4" fill="#b9529f"/>
<rect x="408.57" y="956.95" width="4.25" height="16.25" fill="#ed1c24"/>
<rect x="412.81" y="944.45" width="4.25" height="28.75" fill="#6abd45"/>
<rect x="417.06" y="966.3" width="4.25" height="6.9" fill="#3953a4"/>
<rect x="421.3" y="928.6" width="4.25" height="44.6" fill="#f6eb14"/>
<rect x="425.55" y="956.95" width="4.25" height="16.25" fill="#b9529f"/>
<rect x="429.8" y="936.3" width="4.25" height="36.9" fill="#ed1c24"/>
<rect x="434.04" y="916.1" width="4.25" height="57.1" fill="#6abd45"/>
<rect x="438.29" y="963.2" width="4.25" height="10" fill="#3953a4"/>
<rect x="442.53" y="921.1" width="4.25" height="52.1" fill="#f6eb14"/>
<rect x="446.78" y="936.95" width="4.25" height="36.25" fill="#b9529f"/>
<rect x="451.03" y="875.1" width="4.25" height="98.1" fill="#ed1c24"/>
<rect x="455.27" y="889.45" width="4.25" height="83.75" fill="#6abd45"/>
<rect x="459.52" y="942.6" width="4.25" height="30.6" fill="#3953a4"/>
<rect x="463.76" y="936.3" width="4.25" height="36.9" fill="#f6eb14"/>
<rect x="468.01" y="872.6" width="4.25" height="100.6" fill="#b9529f"/>
<rect x="472.26" y="846.95" width="4.25" height="126.25" fill="#ed1c24"/>
<rect x="476.5" y="893.8" width="4.25" height="79.4" fill="#6abd45"/>
<rect x="480.75" y="686" width="4.25" height="287.2" fill="#3953a4"/>
<rect x="484.99" y="958.2" width="4.25" height="15" fill="#f6eb14"/>
<rect x="489.24" y="846.6" width="4.25" height="126.6" fill="#b9529f"/>
</g>
<line x1="58.2" y1="559.4" x2="58.2" y2="974.2" stroke="#5055b2" stroke-width="1.6"/>
<line x1="57.2" y1="559.4" x2="506.2" y2="559.4" stroke="#5055b2" stroke-width="2.0"/>
<line x1="504.6" y1="558.4" x2="504.6" y2="974.2" stroke="#2e3192" stroke-width="3.2"/>
<line x1="57.2" y1="973.6" x2="506.2" y2="973.6" stroke="#5055b2" stroke-width="2.0"/>
<text class="tk" x="53.9" y="978.3" text-anchor="end" textLength="6.3" lengthAdjust="spacingAndGlyphs">0</text>
<line x1="58.2" y1="931.82" x2="62.8" y2="931.82" stroke="#2e3192" stroke-width="1.3"/>
<text class="tk" x="53.9" y="936.92" text-anchor="end" textLength="18.9" lengthAdjust="spacingAndGlyphs">400</text>
<line x1="58.2" y1="890.44" x2="62.8" y2="890.44" stroke="#2e3192" stroke-width="1.3"/>
<text class="tk" x="53.9" y="895.54" text-anchor="end" textLength="18.9" lengthAdjust="spacingAndGlyphs">800</text>
<line x1="58.2" y1="849.06" x2="62.8" y2="849.06" stroke="#2e3192" stroke-width="1.3"/>
<text class="tk" x="53.9" y="854.16" text-anchor="end" textLength="25.2" lengthAdjust="spacingAndGlyphs">1200</text>
<line x1="58.2" y1="807.68" x2="62.8" y2="807.68" stroke="#2e3192" stroke-width="1.3"/>
<text class="tk" x="53.9" y="812.78" text-anchor="end" textLength="25.2" lengthAdjust="spacingAndGlyphs">1600</text>
<line x1="58.2" y1="766.3" x2="62.8" y2="766.3" stroke="#2e3192" stroke-width="1.3"/>
<text class="tk" x="53.9" y="771.4" text-anchor="end" textLength="25.2" lengthAdjust="spacingAndGlyphs">2000</text>
<line x1="58.2" y1="724.92" x2="62.8" y2="724.92" stroke="#2e3192" stroke-width="1.3"/>
<text class="tk" x="53.9" y="730.02" text-anchor="end" textLength="25.2" lengthAdjust="spacingAndGlyphs">2400</text>
<line x1="58.2" y1="683.54" x2="62.8" y2="683.54" stroke="#2e3192" stroke-width="1.3"/>
<text class="tk" x="53.9" y="688.64" text-anchor="end" textLength="25.2" lengthAdjust="spacingAndGlyphs">2800</text>
<line x1="58.2" y1="642.16" x2="62.8" y2="642.16" stroke="#2e3192" stroke-width="1.3"/>
<text class="tk" x="53.9" y="647.26" text-anchor="end" textLength="25.2" lengthAdjust="spacingAndGlyphs">3200</text>
<line x1="58.2" y1="600.78" x2="62.8" y2="600.78" stroke="#2e3192" stroke-width="1.3"/>
<text class="tk" x="53.9" y="605.88" text-anchor="end" textLength="25.2" lengthAdjust="spacingAndGlyphs">3600</text>
<text class="tk" x="53.9" y="563.8" text-anchor="end" textLength="25.2" lengthAdjust="spacingAndGlyphs">4000</text>
<text class="tk" x="100.43" y="987.4" text-anchor="middle" textLength="15.2" lengthAdjust="spacingAndGlyphs">0.1</text>
<text class="tk" x="142.89" y="987.4" text-anchor="middle" textLength="15.2" lengthAdjust="spacingAndGlyphs">0.2</text>
<text class="tk" x="185.35" y="987.4" text-anchor="middle" textLength="15.2" lengthAdjust="spacingAndGlyphs">0.3</text>
<text class="tk" x="227.81" y="987.4" text-anchor="middle" textLength="15.2" lengthAdjust="spacingAndGlyphs">0.4</text>
<text class="tk" x="270.27" y="987.4" text-anchor="middle" textLength="15.2" lengthAdjust="spacingAndGlyphs">0.5</text>
<text class="tk" x="312.73" y="987.4" text-anchor="middle" textLength="15.2" lengthAdjust="spacingAndGlyphs">0.6</text>
<text class="tk" x="355.19" y="987.4" text-anchor="middle" textLength="15.2" lengthAdjust="spacingAndGlyphs">0.7</text>
<text class="tk" x="397.65" y="987.4" text-anchor="middle" textLength="15.2" lengthAdjust="spacingAndGlyphs">0.8</text>
<text class="tk" x="440.11" y="987.4" text-anchor="middle" textLength="15.2" lengthAdjust="spacingAndGlyphs">0.9</text>
<text class="tk" x="481.57" y="987.4" text-anchor="middle" textLength="6.3" lengthAdjust="spacingAndGlyphs">1</text>
<text class="xl" x="270.27" y="1007.8" text-anchor="middle" textLength="61.5" lengthAdjust="spacingAndGlyphs">H-value</text>
<text class="yl" transform="translate(24.5 766.3) rotate(-90)" text-anchor="middle" textLength="140" lengthAdjust="spacingAndGlyphs">Protein number</text>
<text class="ti" y="548.5"><tspan x="51.8" textLength="62.5" lengthAdjust="spacingAndGlyphs">H-value</tspan> <tspan x="119.21" textLength="90.46" lengthAdjust="spacingAndGlyphs">distribution</tspan> <tspan x="214.57" textLength="15.6" lengthAdjust="spacingAndGlyphs">of</tspan> <tspan x="235.07" textLength="37.49" lengthAdjust="spacingAndGlyphs">4038</tspan> <tspan x="277.47" textLength="66.55" lengthAdjust="spacingAndGlyphs">proteins</tspan> <tspan x="348.92" textLength="37.41" lengthAdjust="spacingAndGlyphs">from</tspan> <tspan x="391.24" textLength="21.64" lengthAdjust="spacingAndGlyphs">Ep</tspan> <tspan x="417.78" textLength="84.32" lengthAdjust="spacingAndGlyphs">DSM12163</tspan></text>
<text class="tg" x="10.7" y="550.7" textLength="32.3" lengthAdjust="spacingAndGlyphs">(<tspan font-size="27.5" dy="-1">c</tspan><tspan dy="1">)</tspan></text>
<rect x="92.3" y="588.3" width="13.4" height="13.4" fill="#6abd45" stroke="#111" stroke-width="1.5"/>
<text class="lg" y="600"><tspan x="111.6" textLength="45.4" lengthAdjust="spacingAndGlyphs">Et1/99</tspan></text>
<rect x="92.3" y="612.55" width="13.4" height="13.4" fill="#b9529f" stroke="#111" stroke-width="1.5"/>
<text class="lg" y="625.15"><tspan x="111.6" textLength="19.38" lengthAdjust="spacingAndGlyphs">Ea</tspan> <tspan x="135.37" textLength="73.83" lengthAdjust="spacingAndGlyphs">CFBP1430</tspan></text>
<rect x="92.3" y="636.55" width="13.4" height="13.4" fill="#3953a4" stroke="#111" stroke-width="1.5"/>
<text class="lg" y="649.15"><tspan x="111.6" textLength="48.6" lengthAdjust="spacingAndGlyphs">Ejp617</tspan></text>
<rect x="92.3" y="660.8" width="13.4" height="13.4" fill="#ed1c24" stroke="#111" stroke-width="1.5"/>
<text class="lg" y="673.4"><tspan x="111.6" textLength="19.73" lengthAdjust="spacingAndGlyphs">Ea</tspan> <tspan x="135.8" textLength="64.9" lengthAdjust="spacingAndGlyphs">BAA2158</tspan></text>
<rect x="92.3" y="685.8" width="13.4" height="13.4" fill="#f6eb14" stroke="#111" stroke-width="1.5"/>
<text class="lg" y="698.4"><tspan x="111.6" textLength="44.6" lengthAdjust="spacingAndGlyphs">Eb661</tspan></text>
</g>
<g id="panel-d">
<line x1="607.05" y1="973.2" x2="607.05" y2="968.2" stroke="#2e3192" stroke-width="1.2"/>
<line x1="649.5" y1="973.2" x2="649.5" y2="968.2" stroke="#2e3192" stroke-width="1.2"/>
<line x1="691.95" y1="973.2" x2="691.95" y2="968.2" stroke="#2e3192" stroke-width="1.2"/>
<line x1="734.4" y1="973.2" x2="734.4" y2="968.2" stroke="#2e3192" stroke-width="1.2"/>
<line x1="776.85" y1="973.2" x2="776.85" y2="968.2" stroke="#2e3192" stroke-width="1.2"/>
<line x1="819.3" y1="973.2" x2="819.3" y2="968.2" stroke="#2e3192" stroke-width="1.2"/>
<line x1="861.75" y1="973.2" x2="861.75" y2="968.2" stroke="#2e3192" stroke-width="1.2"/>
<line x1="904.2" y1="973.2" x2="904.2" y2="968.2" stroke="#2e3192" stroke-width="1.2"/>
<line x1="946.65" y1="973.2" x2="946.65" y2="968.2" stroke="#2e3192" stroke-width="1.2"/>
<line x1="989.1" y1="973.2" x2="989.1" y2="968.2" stroke="#2e3192" stroke-width="1.2"/>
<g shape-rendering="auto">
<rect x="575.21" y="905.7" width="4.25" height="67.5" fill="#ed1c24"/>
<rect x="579.46" y="912.6" width="4.25" height="60.6" fill="#6abd45"/>
<rect x="583.7" y="950.1" width="4.25" height="23.1" fill="#3953a4"/>
<rect x="587.95" y="889.1" width="4.25" height="84.1" fill="#f6eb14"/>
<rect x="592.19" y="909.45" width="4.25" height="63.75" fill="#b9529f"/>
<rect x="596.44" y="972.2" width="4.25" height="1" fill="#ed1c24"/>
<rect x="600.68" y="971.7" width="4.25" height="1.5" fill="#6abd45"/>
<rect x="604.93" y="972.2" width="4.25" height="1" fill="#3953a4"/>
<rect x="609.17" y="972.2" width="4.25" height="1" fill="#f6eb14"/>
<rect x="613.42" y="972.2" width="4.25" height="1" fill="#b9529f"/>
<rect x="617.66" y="972.2" width="4.25" height="1" fill="#ed1c24"/>
<rect x="621.91" y="972.2" width="4.25" height="1" fill="#6abd45"/>
<rect x="626.15" y="972.2" width="4.25" height="1" fill="#3953a4"/>
<rect x="630.4" y="972.2" width="4.25" height="1" fill="#f6eb14"/>
<rect x="634.64" y="972.2" width="4.25" height="1" fill="#b9529f"/>
<rect x="638.89" y="972.2" width="4.25" height="1" fill="#ed1c24"/>
<rect x="643.13" y="971.7" width="4.25" height="1.5" fill="#6abd45"/>
<rect x="647.38" y="972.2" width="4.25" height="1" fill="#3953a4"/>
<rect x="651.62" y="972.2" width="4.25" height="1" fill="#f6eb14"/>
<rect x="655.87" y="971.7" width="4.25" height="1.5" fill="#b9529f"/>
<rect x="660.11" y="969.2" width="4.25" height="4" fill="#ed1c24"/>
<rect x="664.36" y="971.2" width="4.25" height="2" fill="#6abd45"/>
<rect x="668.6" y="972.2" width="4.25" height="1" fill="#3953a4"/>
<rect x="672.85" y="969.2" width="4.25" height="4" fill="#f6eb14"/>
<rect x="677.09" y="971.2" width="4.25" height="2" fill="#b9529f"/>
<rect x="681.34" y="969.45" width="4.25" height="3.75" fill="#ed1c24"/>
<rect x="685.58" y="971.2" width="4.25" height="2" fill="#6abd45"/>
<rect x="689.83" y="971.7" width="4.25" height="1.5" fill="#3953a4"/>
<rect x="694.07" y="968.2" width="4.25" height="5" fill="#f6eb14"/>
<rect x="698.32" y="969.45" width="4.25" height="3.75" fill="#b9529f"/>
<rect x="702.56" y="971.2" width="4.25" height="2" fill="#ed1c24"/>
<rect x="706.81" y="969.45" width="4.25" height="3.75" fill="#6abd45"/>
<rect x="711.05" y="972.2" width="4.25" height="1" fill="#3953a4"/>
<rect x="715.3" y="966.2" width="4.25" height="7" fill="#f6eb14"/>
<rect x="719.54" y="971.2" width="4.25" height="2" fill="#b9529f"/>
<rect x="723.79" y="968.2" width="4.25" height="5" fill="#ed1c24"/>
<rect x="728.03" y="971.2" width="4.25" height="2" fill="#6abd45"/>
<rect x="732.28" y="971.7" width="4.25" height="1.5" fill="#3953a4"/>
<rect x="736.52" y="968.2" width="4.25" height="5" fill="#f6eb14"/>
<rect x="740.77" y="972.2" width="4.25" height="1" fill="#b9529f"/>
<rect x="745.01" y="972.4" width="4.25" height="0.8" fill="#ed1c24"/>
<rect x="749.26" y="971.2" width="4.25" height="2" fill="#6abd45"/>
<rect x="753.5" y="972.2" width="4.25" height="1" fill="#3953a4"/>
<rect x="757.75" y="968.2" width="4.25" height="5" fill="#f6eb14"/>
<rect x="761.99" y="971.7" width="4.25" height="1.5" fill="#b9529f"/>
<rect x="766.24" y="969.45" width="4.25" height="3.75" fill="#ed1c24"/>
<rect x="770.48" y="971.2" width="4.25" height="2" fill="#6abd45"/>
<rect x="774.73" y="971.7" width="4.25" height="1.5" fill="#3953a4"/>
<rect x="778.97" y="968.2" width="4.25" height="5" fill="#f6eb14"/>
<rect x="783.22" y="971.2" width="4.25" height="2" fill="#b9529f"/>
<rect x="787.46" y="969.2" width="4.25" height="4" fill="#ed1c24"/>
<rect x="791.71" y="971.2" width="4.25" height="2" fill="#6abd45"/>
<rect x="795.95" y="972.2" width="4.25" height="1" fill="#3953a4"/>
<rect x="800.2" y="966.2" width="4.25" height="7" fill="#f6eb14"/>
<rect x="804.44" y="971.2" width="4.25" height="2" fill="#b9529f"/>
<rect x="808.69" y="971.2" width="4.25" height="2" fill="#ed1c24"/>
<rect x="812.93" y="971.2" width="4.25" height="2" fill="#6abd45"/>
<rect x="817.18" y="971.7" width="4.25" height="1.5" fill="#3953a4"/>
<rect x="821.42" y="964.45" width="4.25" height="8.75" fill="#f6eb14"/>
<rect x="825.67" y="971.2" width="4.25" height="2" fill="#b9529f"/>
<rect x="829.91" y="969.2" width="4.25" height="4" fill="#ed1c24"/>
<rect x="834.16" y="971.2" width="4.25" height="2" fill="#6abd45"/>
<rect x="838.4" y="971.2" width="4.25" height="2" fill="#3953a4"/>
<rect x="842.65" y="960.2" width="4.25" height="13" fill="#f6eb14"/>
<rect x="846.89" y="971.2" width="4.25" height="2" fill="#b9529f"/>
<rect x="851.14" y="967.2" width="4.25" height="6" fill="#ed1c24"/>
<rect x="855.38" y="969.2" width="4.25" height="4" fill="#6abd45"/>
<rect x="859.63" y="971.2" width="4.25" height="2" fill="#3953a4"/>
<rect x="863.87" y="955.3" width="4.25" height="17.9" fill="#f6eb14"/>
<rect x="868.12" y="970.7" width="4.25" height="2.5" fill="#b9529f"/>
<rect x="872.36" y="963.6" width="4.25" height="9.6" fill="#ed1c24"/>
<rect x="876.61" y="968.2" width="4.25" height="5" fill="#6abd45"/>
<rect x="880.85" y="968.6" width="4.25" height="4.6" fill="#3953a4"/>
<rect x="885.1" y="950.2" width="4.25" height="23" fill="#f6eb14"/>
<rect x="889.34" y="968.2" width="4.25" height="5" fill="#b9529f"/>
<rect x="893.59" y="960.2" width="4.25" height="13" fill="#ed1c24"/>
<rect x="897.83" y="966.3" width="4.25" height="6.9" fill="#6abd45"/>
<rect x="902.08" y="969" width="4.25" height="4.2" fill="#3953a4"/>
<rect x="906.32" y="936.2" width="4.25" height="37" fill="#f6eb14"/>
<rect x="910.57" y="967.4" width="4.25" height="5.8" fill="#b9529f"/>
<rect x="914.81" y="944.8" width="4.25" height="28.4" fill="#ed1c24"/>
<rect x="919.06" y="960.1" width="4.25" height="13.1" fill="#6abd45"/>
<rect x="923.3" y="968.2" width="4.25" height="5" fill="#3953a4"/>
<rect x="927.55" y="926.95" width="4.25" height="46.25" fill="#f6eb14"/>
<rect x="931.79" y="960.1" width="4.25" height="13.1" fill="#b9529f"/>
<rect x="936.04" y="919.2" width="4.25" height="54" fill="#ed1c24"/>
<rect x="940.28" y="939.45" width="4.25" height="33.75" fill="#6abd45"/>
<rect x="944.53" y="964.7" width="4.25" height="8.5" fill="#3953a4"/>
<rect x="948.77" y="922.6" width="4.25" height="50.6" fill="#f6eb14"/>
<rect x="953.02" y="940.3" width="4.25" height="32.9" fill="#b9529f"/>
<rect x="957.26" y="886.1" width="4.25" height="87.1" fill="#ed1c24"/>
<rect x="961.51" y="873.8" width="4.25" height="99.4" fill="#6abd45"/>
<rect x="965.75" y="952.2" width="4.25" height="21" fill="#3953a4"/>
<rect x="970" y="934.1" width="4.25" height="39.1" fill="#f6eb14"/>
<rect x="974.24" y="871.95" width="4.25" height="101.25" fill="#b9529f"/>
<rect x="978.49" y="892.2" width="4.25" height="81" fill="#ed1c24"/>
<rect x="982.73" y="839.45" width="4.25" height="133.75" fill="#6abd45"/>
<rect x="986.98" y="676.6" width="4.25" height="296.6" fill="#3953a4"/>
<rect x="991.22" y="955.1" width="4.25" height="18.1" fill="#f6eb14"/>
<rect x="995.47" y="839.45" width="4.25" height="133.75" fill="#b9529f"/>
</g>
<line x1="564.5" y1="559.6" x2="564.5" y2="974.2" stroke="#5055b2" stroke-width="1.6"/>
<line x1="563.5" y1="559.4" x2="1009.85" y2="559.4" stroke="#5055b2" stroke-width="1.6"/>
<line x1="1009.2" y1="558.4" x2="1009.2" y2="974.2" stroke="#c6c7e6" stroke-width="1.3"/>
<line x1="563.5" y1="973.6" x2="1009.85" y2="973.6" stroke="#5055b2" stroke-width="2.0"/>
<text class="tk" x="560.5" y="978.3" text-anchor="end" textLength="6.3" lengthAdjust="spacingAndGlyphs">0</text>
<line x1="564.5" y1="931.82" x2="569.1" y2="931.82" stroke="#2e3192" stroke-width="1.3"/>
<text class="tk" x="560.5" y="936.92" text-anchor="end" textLength="18.9" lengthAdjust="spacingAndGlyphs">400</text>
<line x1="564.5" y1="890.44" x2="569.1" y2="890.44" stroke="#2e3192" stroke-width="1.3"/>
<text class="tk" x="560.5" y="895.54" text-anchor="end" textLength="18.9" lengthAdjust="spacingAndGlyphs">800</text>
<line x1="564.5" y1="849.06" x2="569.1" y2="849.06" stroke="#2e3192" stroke-width="1.3"/>
<text class="tk" x="560.5" y="854.16" text-anchor="end" textLength="25.2" lengthAdjust="spacingAndGlyphs">1200</text>
<line x1="564.5" y1="807.68" x2="569.1" y2="807.68" stroke="#2e3192" stroke-width="1.3"/>
<text class="tk" x="560.5" y="812.78" text-anchor="end" textLength="25.2" lengthAdjust="spacingAndGlyphs">1600</text>
<line x1="564.5" y1="766.3" x2="569.1" y2="766.3" stroke="#2e3192" stroke-width="1.3"/>
<text class="tk" x="560.5" y="771.4" text-anchor="end" textLength="25.2" lengthAdjust="spacingAndGlyphs">2000</text>
<line x1="564.5" y1="724.92" x2="569.1" y2="724.92" stroke="#2e3192" stroke-width="1.3"/>
<text class="tk" x="560.5" y="730.02" text-anchor="end" textLength="25.2" lengthAdjust="spacingAndGlyphs">2400</text>
<line x1="564.5" y1="683.54" x2="569.1" y2="683.54" stroke="#2e3192" stroke-width="1.3"/>
<text class="tk" x="560.5" y="688.64" text-anchor="end" textLength="25.2" lengthAdjust="spacingAndGlyphs">2800</text>
<line x1="564.5" y1="642.16" x2="569.1" y2="642.16" stroke="#2e3192" stroke-width="1.3"/>
<text class="tk" x="560.5" y="647.26" text-anchor="end" textLength="25.2" lengthAdjust="spacingAndGlyphs">3200</text>
<line x1="564.5" y1="600.78" x2="569.1" y2="600.78" stroke="#2e3192" stroke-width="1.3"/>
<text class="tk" x="560.5" y="605.88" text-anchor="end" textLength="25.2" lengthAdjust="spacingAndGlyphs">3600</text>
<text class="tk" x="560.5" y="563.8" text-anchor="end" textLength="25.2" lengthAdjust="spacingAndGlyphs">4000</text>
<text class="tk" x="607.25" y="987.4" text-anchor="middle" textLength="15.2" lengthAdjust="spacingAndGlyphs">0.1</text>
<text class="tk" x="649.7" y="987.4" text-anchor="middle" textLength="15.2" lengthAdjust="spacingAndGlyphs">0.2</text>
<text class="tk" x="692.15" y="987.4" text-anchor="middle" textLength="15.2" lengthAdjust="spacingAndGlyphs">0.3</text>
<text class="tk" x="734.6" y="987.4" text-anchor="middle" textLength="15.2" lengthAdjust="spacingAndGlyphs">0.4</text>
<text class="tk" x="777.05" y="987.4" text-anchor="middle" textLength="15.2" lengthAdjust="spacingAndGlyphs">0.5</text>
<text class="tk" x="819.5" y="987.4" text-anchor="middle" textLength="15.2" lengthAdjust="spacingAndGlyphs">0.6</text>
<text class="tk" x="861.95" y="987.4" text-anchor="middle" textLength="15.2" lengthAdjust="spacingAndGlyphs">0.7</text>
<text class="tk" x="904.4" y="987.4" text-anchor="middle" textLength="15.2" lengthAdjust="spacingAndGlyphs">0.8</text>
<text class="tk" x="946.85" y="987.4" text-anchor="middle" textLength="15.2" lengthAdjust="spacingAndGlyphs">0.9</text>
<text class="tk" x="988.3" y="987.4" text-anchor="middle" textLength="6.3" lengthAdjust="spacingAndGlyphs">1</text>
<text class="xl" x="776.75" y="1007.8" text-anchor="middle" textLength="61.5" lengthAdjust="spacingAndGlyphs">H-value</text>
<text class="yl" transform="translate(530.4 766.3) rotate(-90)" text-anchor="middle" textLength="140" lengthAdjust="spacingAndGlyphs">Protein number</text>
<text class="ti" y="548.5"><tspan x="581.8" textLength="62.62" lengthAdjust="spacingAndGlyphs">H-value</tspan> <tspan x="649.33" textLength="90.63" lengthAdjust="spacingAndGlyphs">distribution</tspan> <tspan x="744.88" textLength="15.63" lengthAdjust="spacingAndGlyphs">of</tspan> <tspan x="765.42" textLength="37.56" lengthAdjust="spacingAndGlyphs">3672</tspan> <tspan x="807.9" textLength="66.68" lengthAdjust="spacingAndGlyphs">proteins</tspan> <tspan x="879.48" textLength="37.48" lengthAdjust="spacingAndGlyphs">from</tspan> <tspan x="921.88" textLength="54.02" lengthAdjust="spacingAndGlyphs">Ejp617</tspan></text>
<text class="tg" x="513.3" y="550.5" textLength="34" lengthAdjust="spacingAndGlyphs">(<tspan font-size="29.5" dy="0">d</tspan><tspan dy="0">)</tspan></text>
<rect x="600.3" y="588.3" width="13.4" height="13.4" fill="#6abd45" stroke="#111" stroke-width="1.5"/>
<text class="lg" y="600"><tspan x="619.6" textLength="19.73" lengthAdjust="spacingAndGlyphs">Ea</tspan> <tspan x="643.8" textLength="64.9" lengthAdjust="spacingAndGlyphs">BAA2158</tspan></text>
<rect x="600.3" y="612.55" width="13.4" height="13.4" fill="#b9529f" stroke="#111" stroke-width="1.5"/>
<text class="lg" y="625.15"><tspan x="619.6" textLength="19.38" lengthAdjust="spacingAndGlyphs">Ea</tspan> <tspan x="643.37" textLength="73.83" lengthAdjust="spacingAndGlyphs">CFBP1430</tspan></text>
<rect x="600.3" y="636.55" width="13.4" height="13.4" fill="#3953a4" stroke="#111" stroke-width="1.5"/>
<text class="lg" y="649.15"><tspan x="619.6" textLength="19.45" lengthAdjust="spacingAndGlyphs">Ep</tspan> <tspan x="643.45" textLength="75.75" lengthAdjust="spacingAndGlyphs">DSM12163</tspan></text>
<rect x="600.3" y="660.8" width="13.4" height="13.4" fill="#ed1c24" stroke="#111" stroke-width="1.5"/>
<text class="lg" y="673.4"><tspan x="619.6" textLength="45.4" lengthAdjust="spacingAndGlyphs">Et1/99</tspan></text>
<rect x="600.3" y="685.8" width="13.4" height="13.4" fill="#f6eb14" stroke="#111" stroke-width="1.5"/>
<text class="lg" y="698.4"><tspan x="619.6" textLength="44.6" lengthAdjust="spacingAndGlyphs">Eb661</tspan></text>
</g>
<g id="panel-e">
<line x1="96" y1="1479.5" x2="96" y2="1474.5" stroke="#2e3192" stroke-width="1.2"/>
<line x1="138.9" y1="1479.5" x2="138.9" y2="1474.5" stroke="#2e3192" stroke-width="1.2"/>
<line x1="181.8" y1="1479.5" x2="181.8" y2="1474.5" stroke="#2e3192" stroke-width="1.2"/>
<line x1="224.7" y1="1479.5" x2="224.7" y2="1474.5" stroke="#2e3192" stroke-width="1.2"/>
<line x1="267.6" y1="1479.5" x2="267.6" y2="1474.5" stroke="#2e3192" stroke-width="1.2"/>
<line x1="310.5" y1="1479.5" x2="310.5" y2="1474.5" stroke="#2e3192" stroke-width="1.2"/>
<line x1="353.4" y1="1479.5" x2="353.4" y2="1474.5" stroke="#2e3192" stroke-width="1.2"/>
<line x1="396.3" y1="1479.5" x2="396.3" y2="1474.5" stroke="#2e3192" stroke-width="1.2"/>
<line x1="439.2" y1="1479.5" x2="439.2" y2="1474.5" stroke="#2e3192" stroke-width="1.2"/>
<line x1="482.1" y1="1479.5" x2="482.1" y2="1474.5" stroke="#2e3192" stroke-width="1.2"/>
<g shape-rendering="auto">
<rect x="63.83" y="1413.25" width="4.29" height="66.25" fill="#ed1c24"/>
<rect x="68.12" y="1411.75" width="4.29" height="67.75" fill="#6abd45"/>
<rect x="72.41" y="1416.4" width="4.29" height="63.1" fill="#3953a4"/>
<rect x="76.7" y="1408" width="4.29" height="71.5" fill="#f6eb14"/>
<rect x="80.99" y="1410.5" width="4.29" height="69" fill="#b9529f"/>
<rect x="85.28" y="1478.5" width="4.29" height="1" fill="#ed1c24"/>
<rect x="89.57" y="1478.7" width="4.29" height="0.8" fill="#6abd45"/>
<rect x="93.86" y="1478.7" width="4.29" height="0.8" fill="#3953a4"/>
<rect x="98.15" y="1478.7" width="4.29" height="0.8" fill="#f6eb14"/>
<rect x="102.44" y="1478.7" width="4.29" height="0.8" fill="#b9529f"/>
<rect x="106.73" y="1478" width="4.29" height="1.5" fill="#ed1c24"/>
<rect x="111.02" y="1476.5" width="4.29" height="3" fill="#6abd45"/>
<rect x="115.31" y="1476.5" width="4.29" height="3" fill="#3953a4"/>
<rect x="119.6" y="1478" width="4.29" height="1.5" fill="#f6eb14"/>
<rect x="123.89" y="1478" width="4.29" height="1.5" fill="#b9529f"/>
<rect x="128.18" y="1476.5" width="4.29" height="3" fill="#ed1c24"/>
<rect x="132.47" y="1476.5" width="4.29" height="3" fill="#6abd45"/>
<rect x="136.76" y="1476.5" width="4.29" height="3" fill="#3953a4"/>
<rect x="141.05" y="1478" width="4.29" height="1.5" fill="#f6eb14"/>
<rect x="145.34" y="1476.5" width="4.29" height="3" fill="#b9529f"/>
<rect x="149.63" y="1474.5" width="4.29" height="5" fill="#ed1c24"/>
<rect x="153.92" y="1474.5" width="4.29" height="5" fill="#6abd45"/>
<rect x="158.21" y="1474" width="4.29" height="5.5" fill="#3953a4"/>
<rect x="162.5" y="1474.5" width="4.29" height="5" fill="#f6eb14"/>
<rect x="166.79" y="1474.5" width="4.29" height="5" fill="#b9529f"/>
<rect x="171.08" y="1472.5" width="4.29" height="7" fill="#ed1c24"/>
<rect x="175.37" y="1472.5" width="4.29" height="7" fill="#6abd45"/>
<rect x="179.66" y="1472.5" width="4.29" height="7" fill="#3953a4"/>
<rect x="183.95" y="1470.75" width="4.29" height="8.75" fill="#f6eb14"/>
<rect x="188.24" y="1472.5" width="4.29" height="7" fill="#b9529f"/>
<rect x="192.53" y="1474.5" width="4.29" height="5" fill="#ed1c24"/>
<rect x="196.82" y="1472.5" width="4.29" height="7" fill="#6abd45"/>
<rect x="201.11" y="1474.5" width="4.29" height="5" fill="#3953a4"/>
<rect x="205.4" y="1472.5" width="4.29" height="7" fill="#f6eb14"/>
<rect x="209.69" y="1474.5" width="4.29" height="5" fill="#b9529f"/>
<rect x="213.98" y="1475.5" width="4.29" height="4" fill="#ed1c24"/>
<rect x="218.27" y="1477" width="4.29" height="2.5" fill="#6abd45"/>
<rect x="222.56" y="1475.5" width="4.29" height="4" fill="#3953a4"/>
<rect x="226.85" y="1473.5" width="4.29" height="6" fill="#f6eb14"/>
<rect x="231.14" y="1477" width="4.29" height="2.5" fill="#b9529f"/>
<rect x="235.43" y="1475.5" width="4.29" height="4" fill="#ed1c24"/>
<rect x="239.72" y="1477" width="4.29" height="2.5" fill="#6abd45"/>
<rect x="244.01" y="1477.5" width="4.29" height="2" fill="#3953a4"/>
<rect x="248.3" y="1474.1" width="4.29" height="5.4" fill="#f6eb14"/>
<rect x="252.59" y="1477.5" width="4.29" height="2" fill="#b9529f"/>
<rect x="256.88" y="1477" width="4.29" height="2.5" fill="#ed1c24"/>
<rect x="261.17" y="1477" width="4.29" height="2.5" fill="#6abd45"/>
<rect x="265.45" y="1476.5" width="4.29" height="3" fill="#3953a4"/>
<rect x="269.75" y="1473.5" width="4.29" height="6" fill="#f6eb14"/>
<rect x="274.04" y="1477" width="4.29" height="2.5" fill="#b9529f"/>
<rect x="278.33" y="1477.5" width="4.29" height="2" fill="#ed1c24"/>
<rect x="282.62" y="1478.5" width="4.29" height="1" fill="#6abd45"/>
<rect x="286.91" y="1477.5" width="4.29" height="2" fill="#3953a4"/>
<rect x="291.2" y="1473.25" width="4.29" height="6.25" fill="#f6eb14"/>
<rect x="295.49" y="1478.5" width="4.29" height="1" fill="#b9529f"/>
<rect x="299.78" y="1477.5" width="4.29" height="2" fill="#ed1c24"/>
<rect x="304.07" y="1477.5" width="4.29" height="2" fill="#6abd45"/>
<rect x="308.36" y="1475.75" width="4.29" height="3.75" fill="#3953a4"/>
<rect x="312.65" y="1470.75" width="4.29" height="8.75" fill="#f6eb14"/>
<rect x="316.94" y="1477.5" width="4.29" height="2" fill="#b9529f"/>
<rect x="321.23" y="1477.5" width="4.29" height="2" fill="#ed1c24"/>
<rect x="325.52" y="1477.5" width="4.29" height="2" fill="#6abd45"/>
<rect x="329.81" y="1475.75" width="4.29" height="3.75" fill="#3953a4"/>
<rect x="334.1" y="1468.9" width="4.29" height="10.6" fill="#f6eb14"/>
<rect x="338.39" y="1477.5" width="4.29" height="2" fill="#b9529f"/>
<rect x="342.68" y="1474.9" width="4.29" height="4.6" fill="#ed1c24"/>
<rect x="346.97" y="1474.9" width="4.29" height="4.6" fill="#6abd45"/>
<rect x="351.26" y="1474.9" width="4.29" height="4.6" fill="#3953a4"/>
<rect x="355.55" y="1461.4" width="4.29" height="18.1" fill="#f6eb14"/>
<rect x="359.84" y="1474.9" width="4.29" height="4.6" fill="#b9529f"/>
<rect x="364.13" y="1470.75" width="4.29" height="8.75" fill="#ed1c24"/>
<rect x="368.42" y="1471.1" width="4.29" height="8.4" fill="#6abd45"/>
<rect x="372.71" y="1470.75" width="4.29" height="8.75" fill="#3953a4"/>
<rect x="377" y="1456.1" width="4.29" height="23.4" fill="#f6eb14"/>
<rect x="381.29" y="1470.75" width="4.29" height="8.75" fill="#b9529f"/>
<rect x="385.58" y="1465.1" width="4.29" height="14.4" fill="#ed1c24"/>
<rect x="389.87" y="1465.1" width="4.29" height="14.4" fill="#6abd45"/>
<rect x="394.16" y="1464.1" width="4.29" height="15.4" fill="#3953a4"/>
<rect x="398.45" y="1439.1" width="4.29" height="40.4" fill="#f6eb14"/>
<rect x="402.74" y="1464.1" width="4.29" height="15.4" fill="#b9529f"/>
<rect x="407.03" y="1454.5" width="4.29" height="25" fill="#ed1c24"/>
<rect x="411.32" y="1448.6" width="4.29" height="30.9" fill="#6abd45"/>
<rect x="415.61" y="1454.5" width="4.29" height="25" fill="#3953a4"/>
<rect x="419.9" y="1432" width="4.29" height="47.5" fill="#f6eb14"/>
<rect x="424.19" y="1450.1" width="4.29" height="29.4" fill="#b9529f"/>
<rect x="428.48" y="1429.1" width="4.29" height="50.4" fill="#ed1c24"/>
<rect x="432.77" y="1424.75" width="4.29" height="54.75" fill="#6abd45"/>
<rect x="437.06" y="1428.25" width="4.29" height="51.25" fill="#3953a4"/>
<rect x="441.35" y="1426.6" width="4.29" height="52.9" fill="#f6eb14"/>
<rect x="445.64" y="1424.75" width="4.29" height="54.75" fill="#b9529f"/>
<rect x="449.93" y="1391.1" width="4.29" height="88.4" fill="#ed1c24"/>
<rect x="454.22" y="1392" width="4.29" height="87.5" fill="#6abd45"/>
<rect x="458.51" y="1392" width="4.29" height="87.5" fill="#3953a4"/>
<rect x="462.8" y="1437.4" width="4.29" height="42.1" fill="#f6eb14"/>
<rect x="467.09" y="1392.25" width="4.29" height="87.25" fill="#b9529f"/>
<rect x="471.38" y="1396.1" width="4.29" height="83.4" fill="#ed1c24"/>
<rect x="475.67" y="1405.4" width="4.29" height="74.1" fill="#6abd45"/>
<rect x="479.96" y="1394.5" width="4.29" height="85" fill="#3953a4"/>
<rect x="484.25" y="1461.4" width="4.29" height="18.1" fill="#f6eb14"/>
<rect x="488.54" y="1404.1" width="4.29" height="75.4" fill="#b9529f"/>
</g>
<line x1="52.9" y1="1061.2" x2="52.9" y2="1480.5" stroke="#5055b2" stroke-width="1.6"/>
<line x1="51.9" y1="1061.2" x2="505.7" y2="1061.2" stroke="#5055b2" stroke-width="2.0"/>
<line x1="504.2" y1="1060.2" x2="504.2" y2="1480.5" stroke="#2e3192" stroke-width="3.0"/>
<line x1="51.9" y1="1479.9" x2="505.7" y2="1479.9" stroke="#5055b2" stroke-width="2.0"/>
<text class="tk" x="48.7" y="1486.6" text-anchor="end" textLength="6.3" lengthAdjust="spacingAndGlyphs">0</text>
<line x1="52.9" y1="1437.67" x2="57.5" y2="1437.67" stroke="#2e3192" stroke-width="1.3"/>
<text class="tk" x="48.7" y="1444.77" text-anchor="end" textLength="18.9" lengthAdjust="spacingAndGlyphs">400</text>
<line x1="52.9" y1="1395.84" x2="57.5" y2="1395.84" stroke="#2e3192" stroke-width="1.3"/>
<text class="tk" x="48.7" y="1402.94" text-anchor="end" textLength="18.9" lengthAdjust="spacingAndGlyphs">800</text>
<line x1="52.9" y1="1354.01" x2="57.5" y2="1354.01" stroke="#2e3192" stroke-width="1.3"/>
<text class="tk" x="48.7" y="1361.11" text-anchor="end" textLength="25.2" lengthAdjust="spacingAndGlyphs">1200</text>
<line x1="52.9" y1="1312.18" x2="57.5" y2="1312.18" stroke="#2e3192" stroke-width="1.3"/>
<text class="tk" x="48.7" y="1319.28" text-anchor="end" textLength="25.2" lengthAdjust="spacingAndGlyphs">1600</text>
<line x1="52.9" y1="1270.35" x2="57.5" y2="1270.35" stroke="#2e3192" stroke-width="1.3"/>
<text class="tk" x="48.7" y="1277.45" text-anchor="end" textLength="25.2" lengthAdjust="spacingAndGlyphs">2000</text>
<line x1="52.9" y1="1228.52" x2="57.5" y2="1228.52" stroke="#2e3192" stroke-width="1.3"/>
<text class="tk" x="48.7" y="1235.62" text-anchor="end" textLength="25.2" lengthAdjust="spacingAndGlyphs">2400</text>
<line x1="52.9" y1="1186.69" x2="57.5" y2="1186.69" stroke="#2e3192" stroke-width="1.3"/>
<text class="tk" x="48.7" y="1193.79" text-anchor="end" textLength="25.2" lengthAdjust="spacingAndGlyphs">2800</text>
<line x1="52.9" y1="1144.86" x2="57.5" y2="1144.86" stroke="#2e3192" stroke-width="1.3"/>
<text class="tk" x="48.7" y="1151.96" text-anchor="end" textLength="25.2" lengthAdjust="spacingAndGlyphs">3200</text>
<line x1="52.9" y1="1103.03" x2="57.5" y2="1103.03" stroke="#2e3192" stroke-width="1.3"/>
<text class="tk" x="48.7" y="1110.13" text-anchor="end" textLength="25.2" lengthAdjust="spacingAndGlyphs">3600</text>
<text class="tk" x="48.7" y="1068.3" text-anchor="end" textLength="25.2" lengthAdjust="spacingAndGlyphs">4000</text>
<text class="tk" x="95.6" y="1493.7" text-anchor="middle" textLength="15.2" lengthAdjust="spacingAndGlyphs">0.1</text>
<text class="tk" x="138.5" y="1493.7" text-anchor="middle" textLength="15.2" lengthAdjust="spacingAndGlyphs">0.2</text>
<text class="tk" x="181.4" y="1493.7" text-anchor="middle" textLength="15.2" lengthAdjust="spacingAndGlyphs">0.3</text>
<text class="tk" x="224.3" y="1493.7" text-anchor="middle" textLength="15.2" lengthAdjust="spacingAndGlyphs">0.4</text>
<text class="tk" x="267.2" y="1493.7" text-anchor="middle" textLength="15.2" lengthAdjust="spacingAndGlyphs">0.5</text>
<text class="tk" x="310.1" y="1493.7" text-anchor="middle" textLength="15.2" lengthAdjust="spacingAndGlyphs">0.6</text>
<text class="tk" x="353" y="1493.7" text-anchor="middle" textLength="15.2" lengthAdjust="spacingAndGlyphs">0.7</text>
<text class="tk" x="395.9" y="1493.7" text-anchor="middle" textLength="15.2" lengthAdjust="spacingAndGlyphs">0.8</text>
<text class="tk" x="438.8" y="1493.7" text-anchor="middle" textLength="15.2" lengthAdjust="spacingAndGlyphs">0.9</text>
<text class="tk" x="480.7" y="1493.7" text-anchor="middle" textLength="6.3" lengthAdjust="spacingAndGlyphs">1</text>
<text class="xl" x="267.1" y="1516.3" text-anchor="middle" textLength="61.5" lengthAdjust="spacingAndGlyphs">H-value</text>
<text class="yl" transform="translate(17.9 1271.85) rotate(-90)" text-anchor="middle" textLength="140" lengthAdjust="spacingAndGlyphs">Protein number</text>
<text class="ti" y="1050.2"><tspan x="79.7" textLength="63.32" lengthAdjust="spacingAndGlyphs">H-value</tspan> <tspan x="147.99" textLength="91.64" lengthAdjust="spacingAndGlyphs">distribution</tspan> <tspan x="244.6" textLength="15.8" lengthAdjust="spacingAndGlyphs">of</tspan> <tspan x="265.37" textLength="37.98" lengthAdjust="spacingAndGlyphs">3622</tspan> <tspan x="308.31" textLength="67.42" lengthAdjust="spacingAndGlyphs">proteins</tspan> <tspan x="380.7" textLength="37.9" lengthAdjust="spacingAndGlyphs">from</tspan> <tspan x="423.57" textLength="49.88" lengthAdjust="spacingAndGlyphs">Et1/99</tspan></text>
<text class="tg" x="4.5" y="1051.9" textLength="33.6" lengthAdjust="spacingAndGlyphs">(<tspan font-size="27.5" dy="-0.7">e</tspan><tspan dy="0.7">)</tspan></text>
<rect x="88.8" y="1089.05" width="13.4" height="13.4" fill="#6abd45" stroke="#111" stroke-width="1.5"/>
<text class="lg" y="1100.05"><tspan x="108.1" textLength="19.73" lengthAdjust="spacingAndGlyphs">Ea</tspan> <tspan x="132.3" textLength="64.9" lengthAdjust="spacingAndGlyphs">BAA2158</tspan></text>
<rect x="88.8" y="1112.8" width="13.4" height="13.4" fill="#b9529f" stroke="#111" stroke-width="1.5"/>
<text class="lg" y="1125.4"><tspan x="108.1" textLength="19.38" lengthAdjust="spacingAndGlyphs">Ea</tspan> <tspan x="131.87" textLength="73.83" lengthAdjust="spacingAndGlyphs">CFBP1430</tspan></text>
<rect x="88.8" y="1136.55" width="13.4" height="13.4" fill="#3953a4" stroke="#111" stroke-width="1.5"/>
<text class="lg" y="1149.15"><tspan x="108.1" textLength="19.45" lengthAdjust="spacingAndGlyphs">Ep</tspan> <tspan x="131.95" textLength="75.75" lengthAdjust="spacingAndGlyphs">DSM12163</tspan></text>
<rect x="88.8" y="1162.05" width="13.4" height="13.4" fill="#ed1c24" stroke="#111" stroke-width="1.5"/>
<text class="lg" y="1174.65"><tspan x="108.1" textLength="49.6" lengthAdjust="spacingAndGlyphs">Ejb617</tspan></text>
<rect x="88.8" y="1187.05" width="13.4" height="13.4" fill="#f6eb14" stroke="#111" stroke-width="1.5"/>
<text class="lg" y="1199.65"><tspan x="108.1" textLength="44.6" lengthAdjust="spacingAndGlyphs">Eb661</tspan></text>
</g>
<g id="panel-f">
<line x1="607.3" y1="1479.5" x2="607.3" y2="1474.5" stroke="#2e3192" stroke-width="1.2"/>
<line x1="650.2" y1="1479.5" x2="650.2" y2="1474.5" stroke="#2e3192" stroke-width="1.2"/>
<line x1="693.1" y1="1479.5" x2="693.1" y2="1474.5" stroke="#2e3192" stroke-width="1.2"/>
<line x1="736" y1="1479.5" x2="736" y2="1474.5" stroke="#2e3192" stroke-width="1.2"/>
<line x1="778.9" y1="1479.5" x2="778.9" y2="1474.5" stroke="#2e3192" stroke-width="1.2"/>
<line x1="821.8" y1="1479.5" x2="821.8" y2="1474.5" stroke="#2e3192" stroke-width="1.2"/>
<line x1="864.7" y1="1479.5" x2="864.7" y2="1474.5" stroke="#2e3192" stroke-width="1.2"/>
<line x1="907.6" y1="1479.5" x2="907.6" y2="1474.5" stroke="#2e3192" stroke-width="1.2"/>
<line x1="950.5" y1="1479.5" x2="950.5" y2="1474.5" stroke="#2e3192" stroke-width="1.2"/>
<line x1="993.4" y1="1479.5" x2="993.4" y2="1474.5" stroke="#2e3192" stroke-width="1.2"/>
<g shape-rendering="auto">
<rect x="575.12" y="1364.5" width="4.29" height="115" fill="#ed1c24"/>
<rect x="579.41" y="1366.1" width="4.29" height="113.4" fill="#6abd45"/>
<rect x="583.71" y="1364.5" width="4.29" height="115" fill="#3953a4"/>
<rect x="588" y="1376.1" width="4.29" height="103.4" fill="#f6eb14"/>
<rect x="592.28" y="1365.5" width="4.29" height="114" fill="#b9529f"/>
<rect x="596.57" y="1478.5" width="4.29" height="1" fill="#ed1c24"/>
<rect x="600.86" y="1478.5" width="4.29" height="1" fill="#6abd45"/>
<rect x="605.15" y="1478.5" width="4.29" height="1" fill="#3953a4"/>
<rect x="609.44" y="1478.5" width="4.29" height="1" fill="#f6eb14"/>
<rect x="613.73" y="1478.5" width="4.29" height="1" fill="#b9529f"/>
<rect x="618.02" y="1475.9" width="4.29" height="3.6" fill="#ed1c24"/>
<rect x="622.31" y="1475.9" width="4.29" height="3.6" fill="#6abd45"/>
<rect x="626.61" y="1475.9" width="4.29" height="3.6" fill="#3953a4"/>
<rect x="630.89" y="1477.5" width="4.29" height="2" fill="#f6eb14"/>
<rect x="635.18" y="1475.9" width="4.29" height="3.6" fill="#b9529f"/>
<rect x="639.48" y="1473.25" width="4.29" height="6.25" fill="#ed1c24"/>
<rect x="643.76" y="1474.25" width="4.29" height="5.25" fill="#6abd45"/>
<rect x="648.06" y="1472.6" width="4.29" height="6.9" fill="#3953a4"/>
<rect x="652.35" y="1474.25" width="4.29" height="5.25" fill="#f6eb14"/>
<rect x="656.63" y="1474.25" width="4.29" height="5.25" fill="#b9529f"/>
<rect x="660.92" y="1465.25" width="4.29" height="14.25" fill="#ed1c24"/>
<rect x="665.21" y="1464.9" width="4.29" height="14.6" fill="#6abd45"/>
<rect x="669.5" y="1464.9" width="4.29" height="14.6" fill="#3953a4"/>
<rect x="673.79" y="1466.5" width="4.29" height="13" fill="#f6eb14"/>
<rect x="678.08" y="1464.5" width="4.29" height="15" fill="#b9529f"/>
<rect x="682.38" y="1461.1" width="4.29" height="18.4" fill="#ed1c24"/>
<rect x="686.66" y="1459.9" width="4.29" height="19.6" fill="#6abd45"/>
<rect x="690.96" y="1462.6" width="4.29" height="16.9" fill="#3953a4"/>
<rect x="695.25" y="1459.9" width="4.29" height="19.6" fill="#f6eb14"/>
<rect x="699.53" y="1461.4" width="4.29" height="18.1" fill="#b9529f"/>
<rect x="703.82" y="1462.6" width="4.29" height="16.9" fill="#ed1c24"/>
<rect x="708.11" y="1462.6" width="4.29" height="16.9" fill="#6abd45"/>
<rect x="712.4" y="1464.1" width="4.29" height="15.4" fill="#3953a4"/>
<rect x="716.69" y="1465.1" width="4.29" height="14.4" fill="#f6eb14"/>
<rect x="720.98" y="1464.1" width="4.29" height="15.4" fill="#b9529f"/>
<rect x="725.27" y="1467.4" width="4.29" height="12.1" fill="#ed1c24"/>
<rect x="729.56" y="1468.9" width="4.29" height="10.6" fill="#6abd45"/>
<rect x="733.86" y="1467.4" width="4.29" height="12.1" fill="#3953a4"/>
<rect x="738.14" y="1467.4" width="4.29" height="12.1" fill="#f6eb14"/>
<rect x="742.43" y="1468.9" width="4.29" height="10.6" fill="#b9529f"/>
<rect x="746.73" y="1470.75" width="4.29" height="8.75" fill="#ed1c24"/>
<rect x="751.01" y="1472.25" width="4.29" height="7.25" fill="#6abd45"/>
<rect x="755.31" y="1472.25" width="4.29" height="7.25" fill="#3953a4"/>
<rect x="759.6" y="1469.5" width="4.29" height="10" fill="#f6eb14"/>
<rect x="763.88" y="1472.25" width="4.29" height="7.25" fill="#b9529f"/>
<rect x="768.17" y="1473.6" width="4.29" height="5.9" fill="#ed1c24"/>
<rect x="772.46" y="1472.25" width="4.29" height="7.25" fill="#6abd45"/>
<rect x="776.75" y="1473.6" width="4.29" height="5.9" fill="#3953a4"/>
<rect x="781.04" y="1470.75" width="4.29" height="8.75" fill="#f6eb14"/>
<rect x="785.33" y="1472.25" width="4.29" height="7.25" fill="#b9529f"/>
<rect x="789.62" y="1472.4" width="4.29" height="7.1" fill="#ed1c24"/>
<rect x="793.91" y="1472.4" width="4.29" height="7.1" fill="#6abd45"/>
<rect x="798.21" y="1473.9" width="4.29" height="5.6" fill="#3953a4"/>
<rect x="802.5" y="1472.4" width="4.29" height="7.1" fill="#f6eb14"/>
<rect x="806.78" y="1472.4" width="4.29" height="7.1" fill="#b9529f"/>
<rect x="811.07" y="1470.75" width="4.29" height="8.75" fill="#ed1c24"/>
<rect x="815.36" y="1470.75" width="4.29" height="8.75" fill="#6abd45"/>
<rect x="819.65" y="1470.75" width="4.29" height="8.75" fill="#3953a4"/>
<rect x="823.94" y="1469.5" width="4.29" height="10" fill="#f6eb14"/>
<rect x="828.23" y="1472.4" width="4.29" height="7.1" fill="#b9529f"/>
<rect x="832.52" y="1470.75" width="4.29" height="8.75" fill="#ed1c24"/>
<rect x="836.81" y="1469.25" width="4.29" height="10.25" fill="#6abd45"/>
<rect x="841.11" y="1470.75" width="4.29" height="8.75" fill="#3953a4"/>
<rect x="845.39" y="1472.4" width="4.29" height="7.1" fill="#f6eb14"/>
<rect x="849.68" y="1469.25" width="4.29" height="10.25" fill="#b9529f"/>
<rect x="853.98" y="1466.1" width="4.29" height="13.4" fill="#ed1c24"/>
<rect x="858.26" y="1466.1" width="4.29" height="13.4" fill="#6abd45"/>
<rect x="862.56" y="1466.1" width="4.29" height="13.4" fill="#3953a4"/>
<rect x="866.85" y="1464.5" width="4.29" height="15" fill="#f6eb14"/>
<rect x="871.13" y="1465.4" width="4.29" height="14.1" fill="#b9529f"/>
<rect x="875.43" y="1459.9" width="4.29" height="19.6" fill="#ed1c24"/>
<rect x="879.72" y="1459.9" width="4.29" height="19.6" fill="#6abd45"/>
<rect x="884.01" y="1459.9" width="4.29" height="19.6" fill="#3953a4"/>
<rect x="888.3" y="1459.9" width="4.29" height="19.6" fill="#f6eb14"/>
<rect x="892.59" y="1458.9" width="4.29" height="20.6" fill="#b9529f"/>
<rect x="896.88" y="1450.75" width="4.29" height="28.75" fill="#ed1c24"/>
<rect x="901.16" y="1450.1" width="4.29" height="29.4" fill="#6abd45"/>
<rect x="905.46" y="1450.75" width="4.29" height="28.75" fill="#3953a4"/>
<rect x="909.75" y="1448.6" width="4.29" height="30.9" fill="#f6eb14"/>
<rect x="914.03" y="1448.25" width="4.29" height="31.25" fill="#b9529f"/>
<rect x="918.32" y="1442" width="4.29" height="37.5" fill="#ed1c24"/>
<rect x="922.61" y="1442.6" width="4.29" height="36.9" fill="#6abd45"/>
<rect x="926.9" y="1442.4" width="4.29" height="37.1" fill="#3953a4"/>
<rect x="931.19" y="1439.9" width="4.29" height="39.6" fill="#f6eb14"/>
<rect x="935.48" y="1443.6" width="4.29" height="35.9" fill="#b9529f"/>
<rect x="939.77" y="1437.4" width="4.29" height="42.1" fill="#ed1c24"/>
<rect x="944.06" y="1435.75" width="4.29" height="43.75" fill="#6abd45"/>
<rect x="948.36" y="1437.4" width="4.29" height="42.1" fill="#3953a4"/>
<rect x="952.64" y="1437.4" width="4.29" height="42.1" fill="#f6eb14"/>
<rect x="956.93" y="1435.75" width="4.29" height="43.75" fill="#b9529f"/>
<rect x="961.23" y="1447" width="4.29" height="32.5" fill="#ed1c24"/>
<rect x="965.51" y="1448.6" width="4.29" height="30.9" fill="#6abd45"/>
<rect x="969.81" y="1447" width="4.29" height="32.5" fill="#3953a4"/>
<rect x="974.1" y="1445.4" width="4.29" height="34.1" fill="#f6eb14"/>
<rect x="978.38" y="1448.25" width="4.29" height="31.25" fill="#b9529f"/>
<rect x="982.68" y="1467.4" width="4.29" height="12.1" fill="#ed1c24"/>
<rect x="986.97" y="1466.1" width="4.29" height="13.4" fill="#6abd45"/>
<rect x="991.26" y="1466.1" width="4.29" height="13.4" fill="#3953a4"/>
<rect x="995.55" y="1464.9" width="4.29" height="14.6" fill="#f6eb14"/>
<rect x="999.84" y="1466.1" width="4.29" height="13.4" fill="#b9529f"/>
</g>
<line x1="564.5" y1="1061.4" x2="564.5" y2="1480.5" stroke="#5055b2" stroke-width="1.6"/>
<line x1="563.5" y1="1061.2" x2="1016.2" y2="1061.2" stroke="#5055b2" stroke-width="1.6"/>
<line x1="1015.2" y1="1060.2" x2="1015.2" y2="1480.5" stroke="#5055b2" stroke-width="2.0"/>
<line x1="563.5" y1="1479.9" x2="1016.2" y2="1479.9" stroke="#5055b2" stroke-width="2.0"/>
<text class="tk" x="560.2" y="1484.7" text-anchor="end" textLength="6.3" lengthAdjust="spacingAndGlyphs">0</text>
<line x1="564.5" y1="1437.67" x2="569.1" y2="1437.67" stroke="#2e3192" stroke-width="1.3"/>
<text class="tk" x="560.2" y="1442.87" text-anchor="end" textLength="18.9" lengthAdjust="spacingAndGlyphs">500</text>
<line x1="564.5" y1="1395.84" x2="569.1" y2="1395.84" stroke="#2e3192" stroke-width="1.3"/>
<text class="tk" x="560.2" y="1401.04" text-anchor="end" textLength="25.2" lengthAdjust="spacingAndGlyphs">1000</text>
<line x1="564.5" y1="1354.01" x2="569.1" y2="1354.01" stroke="#2e3192" stroke-width="1.3"/>
<text class="tk" x="560.2" y="1359.21" text-anchor="end" textLength="25.2" lengthAdjust="spacingAndGlyphs">1500</text>
<line x1="564.5" y1="1312.18" x2="569.1" y2="1312.18" stroke="#2e3192" stroke-width="1.3"/>
<text class="tk" x="560.2" y="1317.38" text-anchor="end" textLength="25.2" lengthAdjust="spacingAndGlyphs">2000</text>
<line x1="564.5" y1="1270.35" x2="569.1" y2="1270.35" stroke="#2e3192" stroke-width="1.3"/>
<text class="tk" x="560.2" y="1275.55" text-anchor="end" textLength="25.2" lengthAdjust="spacingAndGlyphs">2500</text>
<line x1="564.5" y1="1228.52" x2="569.1" y2="1228.52" stroke="#2e3192" stroke-width="1.3"/>
<text class="tk" x="560.2" y="1233.72" text-anchor="end" textLength="25.2" lengthAdjust="spacingAndGlyphs">3000</text>
<line x1="564.5" y1="1186.69" x2="569.1" y2="1186.69" stroke="#2e3192" stroke-width="1.3"/>
<text class="tk" x="560.2" y="1191.89" text-anchor="end" textLength="25.2" lengthAdjust="spacingAndGlyphs">3500</text>
<line x1="564.5" y1="1144.86" x2="569.1" y2="1144.86" stroke="#2e3192" stroke-width="1.3"/>
<text class="tk" x="560.2" y="1150.06" text-anchor="end" textLength="25.2" lengthAdjust="spacingAndGlyphs">4000</text>
<line x1="564.5" y1="1103.03" x2="569.1" y2="1103.03" stroke="#2e3192" stroke-width="1.3"/>
<text class="tk" x="560.2" y="1108.23" text-anchor="end" textLength="25.2" lengthAdjust="spacingAndGlyphs">4500</text>
<text class="tk" x="560.2" y="1066.4" text-anchor="end" textLength="25.2" lengthAdjust="spacingAndGlyphs">5000</text>
<text class="tk" x="607.8" y="1493.7" text-anchor="middle" textLength="15.2" lengthAdjust="spacingAndGlyphs">0.1</text>
<text class="tk" x="650.7" y="1493.7" text-anchor="middle" textLength="15.2" lengthAdjust="spacingAndGlyphs">0.2</text>
<text class="tk" x="693.6" y="1493.7" text-anchor="middle" textLength="15.2" lengthAdjust="spacingAndGlyphs">0.3</text>
<text class="tk" x="736.5" y="1493.7" text-anchor="middle" textLength="15.2" lengthAdjust="spacingAndGlyphs">0.4</text>
<text class="tk" x="779.4" y="1493.7" text-anchor="middle" textLength="15.2" lengthAdjust="spacingAndGlyphs">0.5</text>
<text class="tk" x="822.3" y="1493.7" text-anchor="middle" textLength="15.2" lengthAdjust="spacingAndGlyphs">0.6</text>
<text class="tk" x="865.2" y="1493.7" text-anchor="middle" textLength="15.2" lengthAdjust="spacingAndGlyphs">0.7</text>
<text class="tk" x="908.1" y="1493.7" text-anchor="middle" textLength="15.2" lengthAdjust="spacingAndGlyphs">0.8</text>
<text class="tk" x="951" y="1493.7" text-anchor="middle" textLength="15.2" lengthAdjust="spacingAndGlyphs">0.9</text>
<text class="tk" x="992.9" y="1493.7" text-anchor="middle" textLength="6.3" lengthAdjust="spacingAndGlyphs">1</text>
<text class="xl" x="778.5" y="1514.5" text-anchor="middle" textLength="61.5" lengthAdjust="spacingAndGlyphs">H-value</text>
<text class="yl" transform="translate(530.1 1270.35) rotate(-90)" text-anchor="middle" textLength="140" lengthAdjust="spacingAndGlyphs">Protein number</text>
<text class="ti" y="1048.5"><tspan x="591.1" textLength="62.97" lengthAdjust="spacingAndGlyphs">H-value</tspan> <tspan x="659.01" textLength="91.14" lengthAdjust="spacingAndGlyphs">distribution</tspan> <tspan x="755.08" textLength="15.72" lengthAdjust="spacingAndGlyphs">of</tspan> <tspan x="775.74" textLength="37.77" lengthAdjust="spacingAndGlyphs">4917</tspan> <tspan x="818.45" textLength="67.05" lengthAdjust="spacingAndGlyphs">proteins</tspan> <tspan x="890.44" textLength="37.69" lengthAdjust="spacingAndGlyphs">from</tspan> <tspan x="933.07" textLength="50.13" lengthAdjust="spacingAndGlyphs">Eb661</tspan></text>
<text class="tg" x="516.7" y="1051.9" textLength="26.4" lengthAdjust="spacingAndGlyphs">(<tspan font-size="29.5" dy="0">f</tspan><tspan dy="0">)</tspan></text>
<rect x="600.8" y="1089.05" width="13.4" height="13.4" fill="#6abd45" stroke="#111" stroke-width="1.5"/>
<text class="lg" y="1100.05"><tspan x="620.1" textLength="19.73" lengthAdjust="spacingAndGlyphs">Ea</tspan> <tspan x="644.3" textLength="64.9" lengthAdjust="spacingAndGlyphs">BAA2158</tspan></text>
<rect x="600.8" y="1112.8" width="13.4" height="13.4" fill="#b9529f" stroke="#111" stroke-width="1.5"/>
<text class="lg" y="1125.4"><tspan x="620.1" textLength="19.38" lengthAdjust="spacingAndGlyphs">Ea</tspan> <tspan x="643.87" textLength="73.83" lengthAdjust="spacingAndGlyphs">CFBP1430</tspan></text>
<rect x="600.8" y="1137.8" width="13.4" height="13.4" fill="#3953a4" stroke="#111" stroke-width="1.5"/>
<text class="lg" y="1150.4"><tspan x="620.1" textLength="19.45" lengthAdjust="spacingAndGlyphs">Ep</tspan> <tspan x="643.95" textLength="75.75" lengthAdjust="spacingAndGlyphs">DSM12163</tspan></text>
<rect x="600.8" y="1162.05" width="13.4" height="13.4" fill="#ed1c24" stroke="#111" stroke-width="1.5"/>
<text class="lg" y="1174.65"><tspan x="620.1" textLength="49.6" lengthAdjust="spacingAndGlyphs">Ejb617</tspan></text>
<rect x="600.8" y="1187.05" width="13.4" height="13.4" fill="#f6eb14" stroke="#111" stroke-width="1.5"/>
<text class="lg" y="1199.65"><tspan x="620.1" textLength="45.4" lengthAdjust="spacingAndGlyphs">Et1/99</tspan></text>
</g>
</svg></body></html>
